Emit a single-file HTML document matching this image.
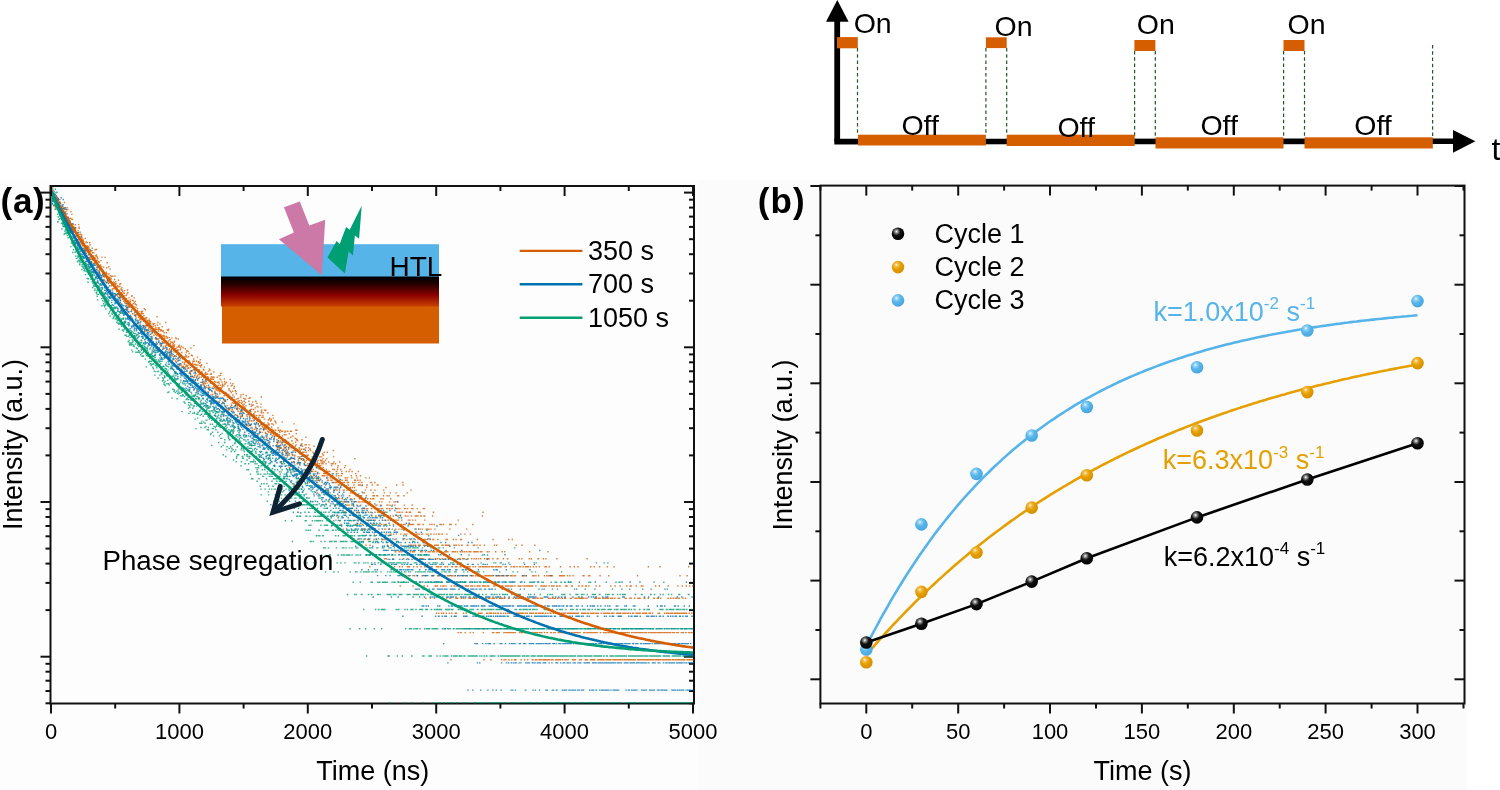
<!DOCTYPE html>
<html><head><meta charset="utf-8"><style>
html,body{margin:0;padding:0;background:#fff;width:1500px;height:790px;overflow:hidden}
svg{display:block;filter:blur(0.4px)}
</style></head><body>
<svg width="1500" height="790" viewBox="0 0 1500 790" font-family="'Liberation Sans', sans-serif">
<rect x="0" y="0" width="1500" height="790" fill="#ffffff"/>
<rect x="0" y="179" width="699" height="611" fill="#fdfdfd"/>
<rect x="699" y="180" width="768" height="610" fill="#fbfbfb"/>
<line x1="857.5" y1="48" x2="857.5" y2="135" stroke="#1d5a1d" stroke-width="1.2" stroke-dasharray="3.6,2.65" fill="none"/>
<line x1="985.9" y1="48" x2="985.9" y2="135" stroke="#1d5a1d" stroke-width="1.2" stroke-dasharray="3.6,2.65" fill="none"/>
<line x1="1006.7" y1="48" x2="1006.7" y2="135" stroke="#1d5a1d" stroke-width="1.2" stroke-dasharray="3.6,2.65" fill="none"/>
<line x1="1134.6" y1="51" x2="1134.6" y2="137" stroke="#1d5a1d" stroke-width="1.2" stroke-dasharray="3.6,2.65" fill="none"/>
<line x1="1155.3" y1="51" x2="1155.3" y2="137" stroke="#1d5a1d" stroke-width="1.2" stroke-dasharray="3.6,2.65" fill="none"/>
<line x1="1283.6" y1="51" x2="1283.6" y2="137" stroke="#1d5a1d" stroke-width="1.2" stroke-dasharray="3.6,2.65" fill="none"/>
<line x1="1304.5" y1="51" x2="1304.5" y2="137" stroke="#1d5a1d" stroke-width="1.2" stroke-dasharray="3.6,2.65" fill="none"/>
<line x1="1432.6" y1="45" x2="1432.6" y2="137" stroke="#1d5a1d" stroke-width="1.2" stroke-dasharray="3.6,2.65" fill="none"/>
<line x1="837.2" y1="20" x2="837.2" y2="141.5" stroke="#000" stroke-width="5.8"/>
<polygon points="837.3,0 848.6,21.8 826,21.8" fill="#000"/>
<line x1="834.3" y1="141.6" x2="1454" y2="141.3" stroke="#000" stroke-width="5.6"/>
<polygon points="1453,130.1 1475.4,141.2 1453,152.7" fill="#000"/>
<rect x="836.9" y="37.1" width="20.899999999999977" height="11.199999999999996" fill="#D55E00"/>
<rect x="985.9" y="37.3" width="20.800000000000068" height="10.800000000000004" fill="#D55E00"/>
<rect x="1134.4" y="40" width="21.0" height="11" fill="#D55E00"/>
<rect x="1283.5" y="40" width="21.0" height="11" fill="#D55E00"/>
<rect x="858" y="134.7" width="127.89999999999998" height="10.800000000000011" fill="#D55E00"/>
<rect x="1006.7" y="134.7" width="128.0" height="11.300000000000011" fill="#D55E00"/>
<rect x="1155.5" y="137.3" width="128.0" height="11.199999999999989" fill="#D55E00"/>
<rect x="1304.5" y="137.3" width="128.29999999999995" height="11.199999999999989" fill="#D55E00"/>
<text x="853.7" y="33.3" font-size="28.5" font-family="'Liberation Sans', sans-serif">On</text>
<text x="994.6" y="36.2" font-size="28.5" font-family="'Liberation Sans', sans-serif">On</text>
<text x="1136.8" y="34.3" font-size="28.5" font-family="'Liberation Sans', sans-serif">On</text>
<text x="1287.5" y="34.2" font-size="28.5" font-family="'Liberation Sans', sans-serif">On</text>
<text x="901.4" y="134.5" font-size="28.5" font-family="'Liberation Sans', sans-serif">Off</text>
<text x="1057.4" y="137.2" font-size="28.5" font-family="'Liberation Sans', sans-serif">Off</text>
<text x="1200.4" y="134.5" font-size="28.5" font-family="'Liberation Sans', sans-serif">Off</text>
<text x="1354.3" y="134.5" font-size="28.5" font-family="'Liberation Sans', sans-serif">Off</text>
<text x="1491.5" y="160" font-size="32" font-family="'Liberation Sans', sans-serif">t</text>
<rect x="50.5" y="186" width="643.5" height="517.5" fill="none" stroke="#111" stroke-width="2"/>
<line x1="45.5" y1="300.7" x2="50.5" y2="300.7" stroke="#111" stroke-width="2"/>
<line x1="689" y1="300.7" x2="694" y2="300.7" stroke="#111" stroke-width="2"/>
<line x1="45.5" y1="273.5" x2="50.5" y2="273.5" stroke="#111" stroke-width="2"/>
<line x1="689" y1="273.5" x2="694" y2="273.5" stroke="#111" stroke-width="2"/>
<line x1="45.5" y1="254.2" x2="50.5" y2="254.2" stroke="#111" stroke-width="2"/>
<line x1="689" y1="254.2" x2="694" y2="254.2" stroke="#111" stroke-width="2"/>
<line x1="45.5" y1="239.2" x2="50.5" y2="239.2" stroke="#111" stroke-width="2"/>
<line x1="689" y1="239.2" x2="694" y2="239.2" stroke="#111" stroke-width="2"/>
<line x1="45.5" y1="226.9" x2="50.5" y2="226.9" stroke="#111" stroke-width="2"/>
<line x1="689" y1="226.9" x2="694" y2="226.9" stroke="#111" stroke-width="2"/>
<line x1="45.5" y1="216.6" x2="50.5" y2="216.6" stroke="#111" stroke-width="2"/>
<line x1="689" y1="216.6" x2="694" y2="216.6" stroke="#111" stroke-width="2"/>
<line x1="45.5" y1="207.6" x2="50.5" y2="207.6" stroke="#111" stroke-width="2"/>
<line x1="689" y1="207.6" x2="694" y2="207.6" stroke="#111" stroke-width="2"/>
<line x1="45.5" y1="199.7" x2="50.5" y2="199.7" stroke="#111" stroke-width="2"/>
<line x1="689" y1="199.7" x2="694" y2="199.7" stroke="#111" stroke-width="2"/>
<line x1="40.5" y1="192.6" x2="50.5" y2="192.6" stroke="#111" stroke-width="2"/>
<line x1="684" y1="192.6" x2="694" y2="192.6" stroke="#111" stroke-width="2"/>
<line x1="45.5" y1="455.4" x2="50.5" y2="455.4" stroke="#111" stroke-width="2"/>
<line x1="689" y1="455.4" x2="694" y2="455.4" stroke="#111" stroke-width="2"/>
<line x1="45.5" y1="428.2" x2="50.5" y2="428.2" stroke="#111" stroke-width="2"/>
<line x1="689" y1="428.2" x2="694" y2="428.2" stroke="#111" stroke-width="2"/>
<line x1="45.5" y1="408.9" x2="50.5" y2="408.9" stroke="#111" stroke-width="2"/>
<line x1="689" y1="408.9" x2="694" y2="408.9" stroke="#111" stroke-width="2"/>
<line x1="45.5" y1="393.9" x2="50.5" y2="393.9" stroke="#111" stroke-width="2"/>
<line x1="689" y1="393.9" x2="694" y2="393.9" stroke="#111" stroke-width="2"/>
<line x1="45.5" y1="381.6" x2="50.5" y2="381.6" stroke="#111" stroke-width="2"/>
<line x1="689" y1="381.6" x2="694" y2="381.6" stroke="#111" stroke-width="2"/>
<line x1="45.5" y1="371.3" x2="50.5" y2="371.3" stroke="#111" stroke-width="2"/>
<line x1="689" y1="371.3" x2="694" y2="371.3" stroke="#111" stroke-width="2"/>
<line x1="45.5" y1="362.3" x2="50.5" y2="362.3" stroke="#111" stroke-width="2"/>
<line x1="689" y1="362.3" x2="694" y2="362.3" stroke="#111" stroke-width="2"/>
<line x1="45.5" y1="354.4" x2="50.5" y2="354.4" stroke="#111" stroke-width="2"/>
<line x1="689" y1="354.4" x2="694" y2="354.4" stroke="#111" stroke-width="2"/>
<line x1="40.5" y1="347.3" x2="50.5" y2="347.3" stroke="#111" stroke-width="2"/>
<line x1="684" y1="347.3" x2="694" y2="347.3" stroke="#111" stroke-width="2"/>
<line x1="45.5" y1="610.1" x2="50.5" y2="610.1" stroke="#111" stroke-width="2"/>
<line x1="689" y1="610.1" x2="694" y2="610.1" stroke="#111" stroke-width="2"/>
<line x1="45.5" y1="582.9" x2="50.5" y2="582.9" stroke="#111" stroke-width="2"/>
<line x1="689" y1="582.9" x2="694" y2="582.9" stroke="#111" stroke-width="2"/>
<line x1="45.5" y1="563.6" x2="50.5" y2="563.6" stroke="#111" stroke-width="2"/>
<line x1="689" y1="563.6" x2="694" y2="563.6" stroke="#111" stroke-width="2"/>
<line x1="45.5" y1="548.6" x2="50.5" y2="548.6" stroke="#111" stroke-width="2"/>
<line x1="689" y1="548.6" x2="694" y2="548.6" stroke="#111" stroke-width="2"/>
<line x1="45.5" y1="536.3" x2="50.5" y2="536.3" stroke="#111" stroke-width="2"/>
<line x1="689" y1="536.3" x2="694" y2="536.3" stroke="#111" stroke-width="2"/>
<line x1="45.5" y1="526.0" x2="50.5" y2="526.0" stroke="#111" stroke-width="2"/>
<line x1="689" y1="526.0" x2="694" y2="526.0" stroke="#111" stroke-width="2"/>
<line x1="45.5" y1="517.0" x2="50.5" y2="517.0" stroke="#111" stroke-width="2"/>
<line x1="689" y1="517.0" x2="694" y2="517.0" stroke="#111" stroke-width="2"/>
<line x1="45.5" y1="509.1" x2="50.5" y2="509.1" stroke="#111" stroke-width="2"/>
<line x1="689" y1="509.1" x2="694" y2="509.1" stroke="#111" stroke-width="2"/>
<line x1="40.5" y1="502.0" x2="50.5" y2="502.0" stroke="#111" stroke-width="2"/>
<line x1="684" y1="502.0" x2="694" y2="502.0" stroke="#111" stroke-width="2"/>
<line x1="45.5" y1="703.3" x2="50.5" y2="703.3" stroke="#111" stroke-width="2"/>
<line x1="689" y1="703.3" x2="694" y2="703.3" stroke="#111" stroke-width="2"/>
<line x1="45.5" y1="691.0" x2="50.5" y2="691.0" stroke="#111" stroke-width="2"/>
<line x1="689" y1="691.0" x2="694" y2="691.0" stroke="#111" stroke-width="2"/>
<line x1="45.5" y1="680.7" x2="50.5" y2="680.7" stroke="#111" stroke-width="2"/>
<line x1="689" y1="680.7" x2="694" y2="680.7" stroke="#111" stroke-width="2"/>
<line x1="45.5" y1="671.7" x2="50.5" y2="671.7" stroke="#111" stroke-width="2"/>
<line x1="689" y1="671.7" x2="694" y2="671.7" stroke="#111" stroke-width="2"/>
<line x1="45.5" y1="663.8" x2="50.5" y2="663.8" stroke="#111" stroke-width="2"/>
<line x1="689" y1="663.8" x2="694" y2="663.8" stroke="#111" stroke-width="2"/>
<line x1="40.5" y1="656.7" x2="50.5" y2="656.7" stroke="#111" stroke-width="2"/>
<line x1="684" y1="656.7" x2="694" y2="656.7" stroke="#111" stroke-width="2"/>
<path transform="scale(0.1)" d="M503 1909h14m-8 11h14m-13 16h14m-12 31h14m-12-55h14m-12 26h14m-12-35h14m-13 99h14m-12-125h14m-12 58h14m-12-34h14m-13 64h14m-12 13h14m-12-32h14m-12-4h14m-12 52h14m-13-47h14m-12 13h14m-12 48h14m-12 50h14m-13-110h14m-12 40h14m-12 91h14m-12-55h14m-12-19h14m-13 65h14m-12 14h14m-12-99h14m-12-19h14m-12 20h14m-13 71h14m-12-70h14m-12 17h14m-12 40h14m-13-50h14m-12-20h14m-12 55h14m-12 20h14m-12-44h14m-13 23h14m-12-40h14m-12 113h14m-12-42h14m-12 18h14m-13 38h14m-12-35h14m-12-61h14m-12 95h14m-13-118h14m-12 27h14m-12 10h14m-12 32h21m-19-27h14m-13 98h14m-8 4h14m-13-36h14m-12 10h14m-12-14h14m-12 25h14m-12-29h14m-13-1h14m-12 81h14m-12-97h14m-12 24h14m-12-21h14m-13 58h14m-12-57h14m-12 22h14m-12 25h14m-13-13h14m-12-41h14m-12-51h14m-12 183h14m-12-114h14m-13 49h14m-12 2h21m-19 73h14m-12-87h14m-12 96h14m-11-111h14m-12 158h14m-12-82h14m-13 51h14m-12-71h14m-12-74h14m-12-22h14m-12 184h14m-13-28h14m-12-59h14m-12-79h14m-12 76h14m-13 47h14m-12-41h14m-12 20h14m-12 29h14m-12-2h17m-16-18h14m-10 32h14m-12-7h14m-12 50h14m-13-27h14m-12-42h14m-12 21h14m-12 63h14m-13-113h14m-12 119h14m-12-185h14m-12 152h14m-12-25h14m-13 74h14m-12-126h14m-12-47h14m-12 168h14m-12-14h14m-13-105h14m-12 123h14m-12-36h14m-12 24h14m-13-36h14m-12-24h14m-12 34h14m-12-12h14m-12 54h14m-13-7h14m-12 97h14m-12-28h14m-12-89h14m-13 6h14m-12-11h14m-12-9h14m-12-31h14m-12 41h14m-13-11h14m-12 52h14m-12 1h14m-12 33h14m-12-31h14m-13 66h14m-12-48h14m-12-2h14m-12-13h14m-13-6h14m-12 107h14m-12-38h14m-12-49h14m-12-26h14m-13-20h14m-12 88h14m-12 20h14m-12-166h14m-12 99h14m-13-74h14m-12 12h14m-12 143h14m-12-33h14m-13-17h14m-12-7h14m-12-47h14m-12 75h14m-12-54h14m-13 109h14m-12-71h14m-12 65h14m-12-60h14m-12 49h14m-13-83h14m-12-3h14m-12 25h14m-12 17h14m-13 14h14m-12 9h21m-19 46h14m-12-10h14m-12-58h14m-11 15h14m-12 100h14m-12-89h14m-13 65h14m-12 5h14m-12-2h14m-12-45h14m-12-4h14m-13 55h14m-12 19h14m-12 17h14m-12-144h14m-12 76h14m-13 65h14m-12-20h14m-12 10h14m-12-89h14m-13 167h14m-12-173h14m-12 45h14m-12 91h14m-12-99h14m-13-31h14m-12 73h14m-12-12h14m-12 21h14m-12-36h14m-13 52h14m-12-30h14m-12-29h14m-12 118h14m-13-110h14m-12 17h14m-12 103h14m-12-98h14m-12-67h14m-13 85h14m-12 66h14m-12-131h14m-12 130h14m-13 18h14m-12-57h14m-12 111h14m-12-138h14m-12 83h14m-13-6h14m-12 37h14m-12-1h14m-12-2h14m-12-116h14m-13-24h14m-12 77h14m-12-33h14m-12 72h14m-13 41h14m-12-52h14m-12 5h14m-12-22h14m-12-11h14m-13-33h14m-12 72h14m-12 32h14m-12-38h14m-12 35h14m-13-47h14m-12-3h14m-12-80h14m-12 125h14m-13-37h14m-12-27h14m-12 69h14m-12-22h14m-12 26h14m-13-82h14m-12-55h14m-12 107h14m-12 91h14m-13-128h14m-12 8h14m-12 36h14m-12 66h14m-12-89h14m-13 124h14m-12-52h14m-12 10h14m-12 69h14m-12-120h14m-13 57h14m-12 50h14m-12-101h14m-12 68h14m-13 84h14m-12-83h14m-12-23h14m-12-8h14m-12-3h14m-13 1h14m-12-9h14m-12 41h14m-12-85h14m-12 84h14m-13 18h14m-12-38h14m-12 104h14m-12-17h14m-13-186h14m-12 139h14m-12-15h14m-12 38h14m-12 13h14m-13-39h14m-12 23h14m-12-19h14m-12 92h14m-13-132h14m-12 85h14m-12 41h14m-12-29h14m-12-34h14m-13 37h14m-12-14h14m-12-1h14m-12-182h14m-12 239h14m-13-82h14m-12 24h14m-12-16h14m-12 122h14m-13-33h14m-12-106h14m-12 14h14m-12-58h14m-12 104h14m-13 4h19m-17-159h14m-12 174h14m-10 21h14m-13-56h14m-12-25h14m-12 57h14m-12 11h14m-13-10h14m-12-132h14m-12 72h14m-12 204h14m-12-122h14m-13 5h14m-12-51h14m-12 16h14m-12-100h14m-13 67h14m-12 61h14m-12 4h14m-12-27h14m-12 26h14m-13-39h14m-12 74h14m-12-25h14m-12-69h14m-12 83h14m-13 2h14m-12 56h14m-12-15h14m-12-42h14m-13 99h14m-12-182h14m-12 80h14m-12 43h22m-20-67h14m-13 65h14m-12-44h14m-12 137h14m-10-121h14m-13-62h14m-12 33h14m-12-68h14m-12 191h14m-13 33h14m-12-142h14m-12 5h14m-12-30h14m-12 70h14m-13-50h14m-12 112h14m-12-80h14m-12 44h14m-13-15h14m-12-23h14m-12 76h14m-12-91h14m-12 82h14m-13-85h14m-12 110h14m-12-21h14m-12-37h14m-12-107h14m-13 133h14m-12-29h14m-12-38h14m-12 80h14m-13 30h14m-12-137h14m-12 60h14m-12-39h14m-12 141h14m-13-39h14m-12-27h14m-12-99h14m-12 201h14m-12-149h14m-13 45h14m-12-9h14m-12 49h14m-12-73h14m-13-25h14m-12 84h14m-12-18h14m-12-42h14m-12 91h14m-13-76h14m-12 39h14m-12 27h14m-12-53h14m-13 41h14m-12 42h14m-12-34h14m-12 33h14m-12-79h14m-13 64h14m-12-90h14m-12 53h14m-12 63h14m-12 10h14m-13-15h14m-12-32h14m-12 19h14m-12 132h14m-13-149h14m-12 108h14m-12-141h14m-12 34h14m-12 64h14m-13 41h14m-12-154h14m-12 138h14m-12-38h14m-12-139h14m-13 198h14m-12-171h14m-12 139h14m-12-17h14m-13 10h14m-12 67h14m-12-122h14m-12-25h14m-12 140h14m-13-55h14m-12-45h14m-12 54h14m-12-43h14m-13 41h14m-12-29h14m-12-26h14m-12-17h15m-12 67h14m-12 100h14m-12-109h14m-12 58h14m-12-17h14m-13-136h14m-12-5h14m-12 88h14m-12 14h14m-13-55h14m-12 134h14m-12-54h14m-12-21h14m-12-56h14m-13 28h14m-12 43h14m-12 2h14m-12 156h14m-12-165h14m-13-92h14m-12 175h14m-12-125h14m-12 62h14m-13 55h14m-12-132h14m-12 28h14m-12 120h14m-12-38h14m-13-51h14m-12 107h14m-12-69h14m-12-61h14m-13 96h14m-12 2h14m-12-35h14m-12 123h14m-12-132h14m-13-18h14m-12 48h14m-12 105h14m-12-93h26m-23 12h21m-19 16h14m-10-57h14m-9 82h14m-12-61h14m-12 2h14m-13 44h14m-12 46h14m-12-70h14m-12 33h14m-12-17h14m-13-22h14m-12-37h14m-12 82h14m-12-27h14m-13-34h14m-12-15h14m-12 9h14m-12 38h14m-12-57h14m-13 78h14m-12 8h14m-12-31h14m-12 110h14m-13-140h14m-12 126h14m-12-52h14m-12 47h14m-12-103h14m-13 39h14m-12-108h14m-12 95h14m-12 133h14m-12-12h14m-13-93h14m-12 45h14m-12-157h14m-12 132h14m-13 48h14m-12-96h14m-12 9h14m-12 68h14m-12-11h14m-13-72h14m-12 47h14m-12 29h14m-12-42h14m-12 90h14m-13-66h14m-12-28h14m-12 97h14m-12 38h14m-13-79h14m-12-54h14m-12 22h14m-12 58h14m-12-10h14m-13-87h14m-12 28h14m-12-13h14m-12 26h22m-21 83h14m-12 95h14m-12-153h14m-12 19h14m-11-60h14m-12 34h14m-12 140h14m-12-80h14m-12-27h14m-13-10h14m-12 63h14m-12 29h14m-12-57h14m-13-13h14m-12 25h14m-12-30h14m-12-54h14m-12 28h14m-13-25h14m-12 6h14m-12 48h14m-12 22h14m-12 37h14m-13-44h14m-12 20h14m-12-92h14m-12 59h14m-13 15h14m-12-20h14m-12-33h14m-12 125h14m-12-36h14m-13 145h14m-12-215h14m-12 114h14m-12-97h14m-13 103h14m-12 88h14m-12-127h14m-12-189h14m-12 222h14m-13-95h21m-19-43h14m-12 144h14m-12-171h14m-11 162h14m-12-111h21m-19 37h14m-12 109h14m-13-132h14m-10 75h14m-12-72h14m-12 147h14m-13-67h14m-12-134h14m-12 105h21m-17-46h14m-13 10h14m-10 135h14m-12 13h14m-13-153h14m-12 93h14m-12-39h14m-12 3h14m-12-94h14m-13 150h14m-12-103h14m-12 69h14m-12 40h14m-13-62h14m-12-52h14m-12 157h14m-12-40h14m-12 63h14m-13-134h14m-12-26h14m-12 37h14m-12 63h14m-12 56h14m-13-102h14m-12 49h14m-12 94h14m-12-103h14m-13 43h14m-12-240h14m-12 228h22m-20-88h14m-12-37h14m-13 225h14m-12-59h14m-10-112h14m-12-84h14m-13 142h14m-12-69h14m-12 75h14m-12 137h14m-13-12h14m-12-266h14m-12 105h14m-12 111h14m-12-228h14m-13 208h14m-12-42h14m-12-83h14m-12 149h14m-13-37h14m-12-92h14m-12 150h14m-12-147h14m-12 112h14m-13-74h14m-12-3h14m-12-15h14m-12 130h14m-12-24h14m-13 10h14m-12-41h14m-12 17h14m-12-132h14m-13 178h14m-12-135h14m-12 40h14m-12 144h14m-12-160h14m-13 13h14m-12-25h14m-12 130h14m-12-102h21m-19 39h14m-13-26h14m-12-53h14m-10-9h14m-13 36h14m-12 111h14m-12-69h14m-12-3h22m-20 30h19m-18 92h14m-12-231h14m-9 6h14m-12 179h14m-12 30h14m-12-48h14m-12-32h14m-13-42h14m-12 36h14m-12 17h14m-12 85h14m-12-112h14m-13 81h14m-12-189h14m-12 111h14m-12 162h17m-16-201h14m-10 10h22m-20-19h14m-12 115h14m-13 78h14m-12-107h14m-10 18h14m-12 29h14m-13-88h14m-12-17h14m-12 169h14m-12-97h14m-13 127h14m-12-123h14m-12-95h14m-12 63h14m-12 43h19m-18 95h22m-20-42h14m-10-35h14m-13 4h14m-10-112h14m-12 105h14m-12 84h14m-13 9h14m-12 13h14m-12-68h14m-12 21h14m-12-8h14m-13-44h14m-12-11h14m-12-11h15m-12-80h14m-12 61h14m-12 68h14m-12 50h14m-12-17h14m-13-125h14m-12 133h14m-12-98h14m-12-52h14m-12 102h14m-13-39h14m-12 118h14m-12-22h14m-12-13h14m-13-143h14m-12 95h14m-12-92h14m-12 170h14m-12-4h14m-13-112h14m-12 42h14m-12-75h14m-12 199h14m-12-121h14m-13 107h14m-12 84h14m-12-183h14m-12 109h14m-13-54h14m-12 35h14m-12 33h14m-12-263h14m-12 287h14m-13-126h14m-12-89h14m-12 158h14m-12-48h15m-12 44h14m-12-150h14m-12 81h14m-12 130h14m-13-139h14m-12-16h14m-12 191h14m-12-106h14m-12 75h21m-20-183h14m-12-134h14m-12 190h14m-11-33h14m-12 141h17m-15-112h14m-10 38h14m-13 40h14m-12 79h14m-12-60h14m-12-93h19m-17 4h14m-13 186h14m-10-223h14m-12 63h14m-13 177h14m-12 53h14m-12-143h14m-12-192h14m-12 233h14m-13-102h14m-12-52h14m-12 99h22m-20-124h14m-13 100h14m-12-108h14m-12 81h14m-10 75h14m-13-71h14m-12-68h14m-12 110h21m-19-86h21m-19-33h14m-13-27h14m-8 73h14m-13 199h14m-12-97h14m-12-119h14m-12-8h14m-12 70h14m-13 14h19m-17 33h14m-12-19h14m-10 81h14m-13-10h21m-19 33h14m-12-12h14m-12-143h14m-11 85h14m-12-76h14m-12 129h14m-12 22h14m-13-182h14m-12 83h14m-12 71h14m-12-86h22m-21 131h14m-12-34h14m-12-42h14m-12-69h14m-11 24h14m-12 50h15m-11 60h14m-12 17h14m-13-242h14m-12 197h14m-12-87h14m-12 24h17m-16-29h14m-10 179h14m-12-140h14m-12 104h14m-13-171h14m-12 72h14m-12 187h14m-12-100h14m-12-66h14m-13-115h14m-12 217h14m-12-204h14m-12 275h14m-13-101h14m-12-45h14m-12-87h22m-20 39h14m-12 11h14m-13 156h14m-12-216h14m-10 34h15m-12 52h14m-12-26h14m-12-5h19m-17 208h14m-13-53h14m-10-171h14m-12 21h15m-12 71h14m-12-145h14m-12 257h14m-12-204h14m-13 63h14m-12-21h14m-12 110h14m-12-49h14m-12 36h14m-13 25h22m-20-49h14m-12-68h14m-12 45h14m-12 154h14m-11-49h14m-12-82h14m-12-18h14m-13 142h14m-12-112h14m-12-127h14m-12 52h14m-12 138h19m-18-75h14m-12 18h14m-10-53h14m-13-28h14m-12 194h14m-12-199h14m-12 86h14m-12-148h14m-13 73h14m-12 87h14m-12-42h19m-17 61h14m-12-148h14m-11 64h14m-12-119h21m-19 20h14m-13 45h14m-12 113h14m-10-30h15m-12 36h14m-12-98h14m-12 50h14m-12-11h14m-12-17h14m-13 135h14m-12-124h14m-12 65h14m-12 13h14m-13 102h14m-12 130h14m-12-137h14m-12-167h14m-12 145h14m-13-47h14m-12-168h14m-12 26h14m-12 27h14m-13 170h21m-19-15h14m-12-166h14m-12 100h21m-18-6h14m-12 12h17m-11-112h14m-13 119h21m-19 143h15m-11-31h14m-11-106h14m-12-91h14m-12 111h14m-12 117h14m-13-8h14m-12 24h14m-12-159h14m-12-44h14m-12-12h14m-13 89h15m-11 118h14m-12-125h14m-13-7h14m-12-169h14m-12 118h14m-12-81h14m-12 332h14m-13-99h14m-12-67h14m-12-138h14m-12 66h14m-13 116h14m-12 15h14m-12 23h14m-12-226h14m-12 242h14m-13-69h14m-12-114h14m-12 38h14m-12-114h14m-12 276h14m-13-115h19m-17 7h14m-12 29h14m-11-151h14m-12 88h14m-12-105h14m-12 154h14m-12 45h14m-13-67h14m-12 29h14m-12-120h14m-12 150h14m-12 90h14m-13-98h14m-12-130h14m-12 115h14m-12-96h14m-13 217h22m-20-67h14m-12-97h14m-12 81h14m-12 24h14m-11-39h14m-12 23h14m-12-67h19m-18 100h14m-12-128h14m-10 226h14m-12-191h14m-13 181h14m-12-196h14m-12 83h14m-12-31h14m-12-30h14m-13 111h14m-12-17h14m-12 43h19m-17-193h14m-13 202h14m-10-222h14m-12 54h14m-12 91h14m-13 17h14m-12-79h15m-11-14h14m-12 144h14m-13-43h14m-12 26h14m-12-98h19m-17 31h14m-13-135h14m-10 143h14m-12-103h14m-12 80h14m-13-52h17m-15 29h14m-10 62h14m-13-32h14m-12-81h21m-19 89h14m-12 8h14m-12-61h14m-11 86h30m-28-56h14m-12 193h14m-12-292h14m-13 189h14m-10-43h14m-12 60h14m-13 18h14m-10 68h14m-12-129h19m-17 139h14m-13-30h14m-10-117h14m-12 137h14m-12-237h14m-13-28h14m-12 226h14m-12-64h14m-12 54h14m-13-37h14m-12-60h14m-12-126h14m-12 135h14m-12 147h14m-13-10h14m-12-129h14m-12-25h21m-19-31h14m-13 146h14m-12-169h14m-10 105h14m-12-90h14m-13 224h14m-12 22h14m-12-121h14m-12-162h14m-12 191h14m-13-162h14m-12 106h14m-12 9h14m-12-68h14m-13 42h14m-12 9h14m-12 45h14m-12 100h14m-12 33h19m-18-170h14m-12-34h17m-11-41h14m-13 191h14m-12-258h14m-12 227h14m-12 52h14m-13-119h14m-12 57h14m-12-75h14m-12-121h14m-12 31h14m-13 296h14m-12-150h14m-12 138h17m-15-236h14m-11-41h14m-12 168h14m-12 183h14m-12-250h15m-12 9h14m-12-27h14m-12 105h14m-12 54h14m-13-22h14m-12 33h14m-12-124h15m-12-46h14m-12 95h14m-12-178h14m-12-30h14m-12 87h14m-13-158h14m-12 142h14m-12-9h14m-12 69h14m-12 87h14m-13 65h14m-12 73h14m-12-127h14m-12-116h14m-13 18h17m-15-44h14m-10 152h14m-12 22h14m-13-11h14m-12 81h14m-12-143h14m-12-38h14m-13-88h14m-12 167h14m-12 10h14m-12 11h14m-12 131h14m-13-98h14m-12 12h14m-12-233h14m-12 177h14m-12 11h17m-16-42h21m-17 123h14m-12-36h14m-11 48h14m-12-125h14m-12 54h14m-12-185h14m-13 101h14m-12 41h14m-12-70h14m-12 49h21m-19 64h14m-13 11h14m-12-85h14m-10-48h14m-13 193h14m-12-203h14m-12 241h15m-11 41h14m-13-139h14m-12-114h14m-12 92h14m-12 34h14m-13-145h14m-12 9h14m-12 70h14m-12-31h22m-20 85h14m-13 182h14m-12-215h14m-12 69h14m-10-24h14m-13-182h14m-12 368h14m-12-341h14m-12 68h14m-13 53h17m-15 46h14m-10-12h22m-20 48h14m-13-24h15m-11-150h14m-10 312h14m-13-198h14m-12-105h14m-12 83h14m-12-73h14m-13 131h14m-12-24h14m-12 127h14m-12-14h14m-12-27h14m-13-25h14m-12 80h14m-12-141h14m-12 24h14m-13 76h14m-12 27h14m-12-183h14m-12 22h15m-12 107h14m-12-25h14m-12 38h14m-12 70h14m-12-144h14m-13-35h14m-12 164h14m-12-153h14m-12-22h17m-16 318h14m-10-211h14m-12 40h14m-12 28h14m-13-55h14m-12-38h14m-12 185h14m-12-256h22m-20 193h14m-13-70h14m-12-217h14m-12 141h14m-11 162h14m-12 31h14m-12-61h19m-17-95h22m-20 223h14m-11-157h14m-12-41h14m-11-74h14m-12 129h14m-12-28h14m-12-125h14m-12-11h19m-18 193h14m-12-109h14m-10 80h14m-12-129h14m-13 174h22m-20-86h14m-12 27h14m-12-54h14m-13 128h14m-10-31h14m-12 63h14m-12 51h14m-13-307h14m-12 224h14m-12-153h14m-12 272h14m-12-164h14m-13-70h14m-12 55h14m-12 76h14m-12 122h19m-18-339h14m-12 201h14m-10 101h14m-12-175h21m-20 123h14m-12-273h14m-12 59h17m-12 105h14m-12 109h14m-12-273h14m-12 96h19m-18 211h14m-12-157h17m-11 232h14m-13-142h14m-12-193h14m-12 76h14m-12 150h14m-13-80h17m-15 114h14m-10-381h14m-12 611h14m-13-135h14m-12-162h17m-15 16h14m-10-185h21m-20 122h14m-12-43h14m-12-41h14m-11-120h14m-12 147h14m-12-113h14m-12 61h22m-19 109h14m-12-204h14m-12 336h19m-15-229h14m-11 160h14m-12 126h14m-12-92h15m-12 17h15m-11-34h14m-12-94h14m-13-15h14m-12 92h22m-20 167h14m-12-199h14m-13-15h19m-17-16h14m-8-57h22m-21 137h14m-12 171h14m-12-265h14m-12 223h21m-18-279h14m-12-39h14m-10 189h21m-20-123h14m-12 59h14m-12 81h14m-10-111h14m-13 265h15m-11-204h14m-12-31h14m-12 116h14m-13-35h14m-12-111h14m-12 128h22m-20-171h14m-13 104h14m-12 142h14m-12-39h14m-10-179h14m-13-105h14m-12 150h14m-12-73h14m-12 154h15m-12-50h14m-12 103h19m-17-87h15m-10 69h14m-12-52h22m-20-33h14m-12 142h14m-13-189h14m-12-29h14m-10 259h14m-13-287h14m-12 376h14m-12-187h14m-12 57h14m-12 84h14m-13-287h17m-15 164h14m-10-150h14m-12 97h14m-13 154h14m-12 22h15m-11-104h14m-13 40h26m-22-129h14m-12-17h14m-11 233h14m-12-23h14m-10-257h14m-13 173h14m-12-57h14m-12-35h21m-19-66h14m-12 220h14m-13-294h14m-10 316h14m-12-159h22m-20 36h14m-13-103h14m-12 162h21m-19-178h21m-18-31h14m-8 251h14m-12-101h14m-13 245h14m-12-51h14m-12 79h14m-12-127h21m-19 23h14m-13-205h14m-12 18h14m-10-35h14m-13 176h14m-12 71h14m-12-194h37m-33 80h14m-13 66h14m-10-164h14m-12-69h19m-18 210h14m-8-84h14m-12-92h15m-10 17h14m-12 255h14m-12-306h14m-13 360h14m-12-291h14m-12-35h14m-12 154h14m-13 68h14m-12-288h14m-12 83h14m-12 18h14m-12-52h14m-13 89h14m-12-122h14m-12 204h14m-12-21h14m-12-21h14m-13-95h17m-15-98h14m-10 379h19m-18-144h14m-12-21h19m-15-133h14m-11 247h14m-12-135h17m-15-77h14m-11 57h14m-12 206h14m-12-315h14m-12 171h14m-12 22h21m-20-257h14m-12 280h21m-19-87h14m-7 186h14m-12-281h14m-12 116h14m-13-21h24m-22 304h17m-6-90h14m-12-150h24m-22 96h14m-13 82h14m-12-155h24m-20-164h31m-28 18h14m-7 169h14m-12-68h14m-12-62h14m-12 84h14m-11-43h14m-12-230h14m-12 63h14m-12 332h17m-16-281h14m-10 75h14m-12 356h22m-19-226h22m-20 162h14m-12-30h14m-11-319h14m-10 563h14m-12-300h14m-12-186h17m-16 42h14m-10 403h14m-12-335h14m-12 76h14m-13 86h14m-12-292h14m-12-20h14m-12 200h14m-13-139h14m-12-80h14m-12 194h22m-20-71h14m-12-22h14m-13 200h14m-12 30h14m-10-86h14m-13-99h14m-12-182h14m-12 399h14m-12-194h26m-24 226h14m-13-176h14m-12-180h14m-10 550h14m-12-488h14m-11-21h22m-20-21h14m-12 87h14m-13 185h14m-12 32h17m-11 103h21m-20-297h14m-12 76h24m-22 390h14m-9-272h22m-20-169h14m-10-25h14m-13-150h14m-10 447h14m-12-343h22m-20-123h14m-13 146h17m-15 185h14m-9-272h14m-12 336h14m-12-176h14m-12 144h14m-12-118h14m-13-99h14m-12 23h26m-24-46h14m-10 272h14m-13-150h14m-12-51h14m-12 169h17m-12 32h17m-15-336h14m-10 242h15m-12-82h21m-19-180h14m-12 206h14m-12 28h40m-37 157h14m-12-99h14m-9-230h14m-12 294h14m-12-272h14m-11-64h14m-12 371h14m-12-211h14m-11-50h14m-10 194h22m-20 103h14m-12-71h14m-13 109h14m-12-310h14m-10 137h14m-12-185h14m-13 73h14m-12-289h14m-12 239h14m-12 335h14m-13 85h14m-12-443h14m-12-66h15m-11 165h14m-13 56h14m-12-200h14m-12 403h14m-12-109h14m-12-272h14m-13 422h22m-20 44h14m-12-123h14m-12 273h14m-13-593h14m-10 217h14m-12-304h14m-12 135h14m-13 272h14m-12-297h14m-12 132h14m-12 62h21m-20-32h14m-12 258h14m-12-395h19m-15-48h14m-11-45h14m-12 200h14m-12 94h14m-12-64h15m-12-162h19m-17 261h14m-12-67h14m-11 434h14m-12-603h14m-12 395h14m-12-316h14m-13 193h14m-12 79h14m-12-182h33m-29 272h14m-11 104h14m-12-466h19m-17 157h19m-12-99h14m-11-86h14m-12 390h14m-12-169h14m-12-343h14m-13 674h14m-12-252h14m-12-244h14m-12-82h14m-12 211h14m-13-236h17m-15 169h14m-10 376h14m-12-408h14m-13 99h14m-12 159h14m-12-194h14m-12 71h17m-12 273h14m-12-194h14m-12 90h22m-21-512h14m-12 240h21m-19 648h14m-12-214h14m-9-466h14m-12-86h17m-15-76h21m-18 376h14m-12-115h17m-12 74h14m-12 85h21m-19-395h14m-12 137h15m-10-30h17m-15-28h14m-11 272h14m-12-214h14m-12 304h14m-12 104h14m-12-54h14m-13-384h14m-12 129h22m-20-261h14m-12 76h14m-13 221h14m-12 79h14m-10-41h17m-15-109h14m-11 194h14m-12 150h15m-11-438h21m-20 94h14m-10-201h22m-19 236h14m-12 36h26m-19 123h14m-12-85h22m-20 131h14m-11-205h21m-19-67h14m-7 569h14m-12-247h17m-15-290h21m-17-64h15m-10 135h14m-12 123h14m-13-159h22m-20-67h14m-12 376h14m-12-194h14m-9-79h14m-12-135h14m-12 408h14m-12-235h22m-21-203h14m-12-56h14m-12 221h14m-12 123h14m-11-316h14m-12 362h14m-12 297h14m-12-387h14m-13 194h14m-12-273h15m-11 169h14m-13-46h21m-19-370h14m-12 713h14m-12-247h14m-11-255h19m-17-35h14m-12-94h14m-10 496h14m-13-293h22m-20 41h22m-20-150h14m-12 344h14m-7-104h19m-17-334h14m-13 129h19m-15-67h14m-10 32h14m-13 290h24m-22-412h14m-12 231h14m-12-173h14m-13 214h22m-16 252h14m-9-367h19m-15 205h14m-11-240h14m-12 150h21m-19 387h14m-12-428h14m-13 85h14m-10 96h15m-11-322h14m-13 434h14m-12 214h14m-12-466h14m-12-150h14m-13 344h15m-11 122h19m-17-498h14m-12 272h14m-11-362h14m-12 272h14m-12 140h14m-12-491h14m-13 236h14m-12 367h14m-12-331h14m-12 79h14m-13 44h14m-12-85h21m-19-203h22m-20 129h14m-12-67h14m-11 182h14m-10 90h14m-12-169h21m-20 395h22m-18 150h14m-11-581h14m-10 774h14m-12-615h24m-22-85h14m-13 181h14m-12 112h14m-10-162h14m-11-90h14m-12 316h14m-12-395h14m-12 545h14m-13-376h22m-20 466h14m-12-932h14m-12 25h14m-12 545h14m-11-150h19m-17 343h14m-12-631h14m-11 384h14m-12-290h14m-12 35h24m-22 205h14m-11-46h14m-12-85h19m-17 181h26m-21-50h14m-12-169h22m-15 273h14m-10-466h14m-13 738h14m-12-581h14m-12 502h14m-12-428h14m-13 597h22m-20-556h14m-12 44h28m-26 422h22m-20-214h14m-9-331h14m-10 79h17m-12 316h14m-12-64h14m-13-331h14m-12 273h14m-12-494h14m-12 344h14m-12-85h14m-13-74h14m-12 367h15m-11-402h17m-15 466h14m-11-272h22m-20-44h14m-12-115h14m-13 774h14m-12-343h26m-22 150h14m-12-214h14m-13 135h14m-10-247h14m-11 416h15m-11-362h14m-12-235h14m-12 41h14m-13 252h14m-12 135h17m-11-297h14m-13-131h28m-26 181h14m-10 326h14m-13-581h14m-10 671h14m-12-512h19m-16 96h14m-10 112h19m-17-331h14m-9 219h14m-12 519h19m-17-615h14m-13 343h14m-10-466h14m-12 331h14m-12-162h14m-13 226h14m-12-357h19m-17 507h14m-12-79h21m-16-247h24m-20 176h14m-13 240h14m-12-466h14m-8 297h14m-13-343h17m-15-159h14m-10 309h14m-13 58h14m-12-293h22m-20 700h14m-12-774h14m-12 581h14m-13-466h14m-10 194h14m-12 58h21m-19 304h14m-13-240h14m-12 466h14m-10-692h30m-29 376h14m-12-326h14m-10 54h17m-12 58h14m-12 407h14m-11-193h14m-12-326h14m-12 176h31m-29-64h24m-19-162h14m-10 297h17m-12-343h14m-10 150h14m-13 588h14m-12-642h19m-15-50h14m-11 376h22m-20-214h15m-11-208h14m-12 512h26m-23-240h35m-33-357h14m-11 235h21m-15-273h14m-9 219h14m-12-96h14m-12 738h14m-11-530h49m-47-162h14m-12 569h22m-19-272h15m-7-247h14m-11 792h14m-12-466h14m-11-150h14m-12 71h14m-12 272h14m-12-103h14m-11-362h14m-12 272h19m-15-326h14m-11 792h14m-12-376h14m-12-169h14m-12-71h21m-18-176h14m-12-96h17m-12 422h21m-19 316h14m-12-123h14m-12-103h19m-16-512h14m-10 888h14m-12-792h19m-18 112h24m-22 135h14m-8 272h26m-21-103h26m-24-512h14m-13 888h14m-3-616h19m-17 150h21m-19-79h14m-11-135h17m-11 407h14m-13-465h14m-12 738h14m-12-616h14m-12 466h14m-12-642h14m-13 112h38m-36-58h14m-12 362h14m-12-90h14m-11-150h14m-10 71h21m-19 169h21m-12 376h14m-11-888h14m-12 46h14m-12 297h17m-16 395h19m-11 615h14m-13-1353h14m-12 615h14m-12-272h14m-12 169h26m-24 376h14m-13-466h19m-17-150h44m-33-122h14m-7 58h21m-19 407h21m-12-103h14m-11 376h14m-12-466h14m-12-422h14m-12 738h14m-13-588h14m-12 58h14m-12 680h14m-12-273h14m-13-193h14m-12 316h22m-20-466h14m-10 240h14m-13 103h14m-10 466h14m-12-1125h14m-12 387h28m-25 272h19m-17-407h14m-9 304h15m-9-90h21m-20-150h14m-12 809h21m-19-931h22m-19-54h14m-10 642h14m-10-123h21m-20-407h17m-15 64h22m-16 71h14m-13 169h17m-11 226h14m-13-316h14m-12 466h14m-12-545h21m-12-71h14m-12-176h14m-12 642h14m-13 343h14m-12-466h24m-20-193h14m-13 90h14m-12 376h14m-8-842h14m-13 226h14m-12 150h44m-42-214h21m-19 304h14m-13 103h22m-16-272h14m-7 395h21m-19-466h21m-9 809h14m-12-985h14m-12 642h14m-12-123h33m-32-343h14m-12 616h14m-10-376h21m-19-169h14m-6 395h14m-10-738h14m-12 422h14m-12 659h14m-13-873h14m-12 304h14m-12-240h15m-12 71h14m-12 395h14m-12-530h15m-11 407h14m-13 273h14m-12-616h14m-12 150h15m-11 90h14m-13 226h22m-20-395h17m-12-71h14m-10-64h14m-12 407h14m-12-465h14m-13 362h17m-15-240h17m-11 616h14m-13-273h17m-15-272h14m-10 79h14m-13 90h14m-12 226h14m-12 150h15m-11-273h14m-13-407h15m-11 64h14m-12 150h14m-13-79h14m-12 545h24m-22-376h17m-15 226h30m-25-466h14m-8-357h14m-13 507h26m-24 193h30m-26-738h14m-11 1204h14m-8 272h14m-9-1145h14m-12 135h14m-11 169h24m-22-90h26m-24 316h22m-19-123h14m-5 273h22m-20-545h15m-11 169h14m-13-240h14m-10 343h14m-12-193h14m-12-79h14m-13 169h17m-15 226h14m-10-123h14m-12-343h14m-13 71h14m-12 545h14m-12-466h14m-12 90h30m-29 226h14m-8 150h28m-23 465h14m-8-931h19m-12 316h38m-37-226h14m-12 569h14m-10-738h14m-12-193h14m-13 272h14m-10 466h14m-12 193h14m-13-466h24m-18-407h14m-7 214h31m-29 466h15m-12-616h14m-12 240h26m-21 569h14m-12-873h14m-12 530h14m-9-395h19m-17 545h22m-20 193h14m-9-569h30m-26-90h14m-11 659h17m-9-343h22m-17-316h22m-17 466h19m-12-376h14m-12 841h14m-12-615h22m-20-123h24m-22-343h14m-4 240h14m-12-169h14m-12 545h14m-11 193h14m-12 272h14m-12-615h19m-15-466h14m-11 240h14m-12-90h14m-12 659h14m-13-466h19m-17 273h14m-12 465h14m-10-931h14m-13 659h17m-11-569h17m-15 103h14m-11-272h17m-15 545h14m-11 193h14m-12-466h17m-15 123h22m-18-588h14m-13 1203h14m-12-272h14m-10-193h19m-12-273h14m-12-103h31m-30 569h22m-16-659h14m-9 193h14m-12 738h14m-12-465h31m-28-738h14m-12 931h28m-26-466h14m-9 123h14m-12-316h15m-8 90h15m-11 841h28m-27-931h14m-12 193h14m-10 466h14m-12-569h15m-12 226h14m-10 150h42m-41-680h14m-8 530h40m-38-316h14m-2 193h22m-11-272h14m-11 738h14m-12-659h22m-20 466h17m-15-273h21m-18 123h14m-8 615h14m-13-272h26m-24-193h14m-12-150h14m-12-395h14m-12-135h14m-11 304h14m-10 226h14m-13 150h24m-22-273h14m-12-193h14m-12 90h14m-7 226h14m-12 343h21m-19-569h14m-13 841h14m-12-738h17m-12 123h21m-19-316h22m-20 466h14m-9-376h14m-8 103h72m-69 466h14m-12-193h14m-12-466h22m-20 931h14m-11-615h22m-16 343h14m-7-738h14m-11-71h14m-12 616h40m-35-466h14m-5-79h15m-4 1010h22m-17-841h28m-26 226h14m-10-316h14m-11 466h14m-12 193h14m-12-343h24m-17-530h14m-12 873h14m-9 272h14m-12-465h22m-20-273h14m-13-103h14m-12-90h14m-12 659h14m-10 272h15m-12-615h24m-20 343h14m-9-738h19m-15 545h19m-16-376h14m-10 841h21m-19-931h14m-13 659h14m-8-193h21m-16-150h22m-18 343h14m-13-466h24m-22 738h14m-7-272h14m-10-193h28m-26-150h15m-10 615h15m-11-1010h14m-13 272h26m-18 738h26m-25-841h14m-12 569h14m-9-659h14m-8 466h14m-11-545h14m-12 272h14m-12-193h14m-12 931h24m-22-841h14m-13 569h19m-10-193h14m-12-616h14m-10 466h14m-13-226h14m-12 841h22m-18-738h14m-13-193h14m-8 90h14m-12 226h17m-16 150h22m-16 193h22m-17-569h14m-12 841h19m-16-738h14m-10 123h21m-19-226h14m-7 841h14m-12-738h21m-19 273h15m-12 193h28m-21-343h22m-11 150h30m-28 465h21m-12-738h21m-18-272h14m-7 395h17m-15 615h14m-10-272h21m-20-193h28m-19 465h14m-12-738h21m-19-103h14m-10 226h14m-11 343h55m-53-659h14m-12 931h14m-13-841h22m-16 376h19m-10-150h14m-11 615h14m-12-841h14m-7 376h30m-23-376h14m-10 226h24m-21 615h14m-8-738h30m-27 466h53m-49 272h17m-6-465h19m-16-376h14m-8 841h14m-7-465h17m-7-376h14m-12-90h14m-12 466h46m-44-150h22m-12-123h22m-20 466h17m-8 272h40m-34-841h14m-7 569h17m-12-659h14m-10 466h49m-48-150h35m-28 343h22m0 0h21m-19-659h14m-7 193h17m-15 123h21m-16 615h14m-7-272h14m-7-343h14m-12 615h17m-10-465h55m-51-273h19m-18 123h14m-6-226h14m-11 226h14m-10 343h22m-19-569h14m-3 226h14m-12 615h14m-11-738h22m-16 466h14m-12 272h24m-19-615h14m-12-395h14m-9 545h21m-19 193h21m-12-569h14m-13 103h15m-6-103h14m-12 569h15m-11-193h28m-25 465h40m-38-931h14m-10 659h26m-10-193h26m-19 193h22m-15-659h14m-10 931h17m-16-615h21m-12 343h30m-28-193h38m-34-273h14m-11 123h15m-1 615h28m-22-615h14m-3-316h14m-13 193h14m-12 123h14m-12-226h14m-12 569h19m-16 272h35m-29-465h14m0-150h21m-12 343h22m-20-193h38m-35 465h14m-5-615h17m-12 343h22m-18 272h15m-8-615h19m-12 615h14m-12-931h14m-12 466h14m-11 193h14m-10-343h14m-12 615h38m-37-465h21m-19-376h14m-10 569h22m-10-343h14m-10-123h14m-9 273h24m-20 193h42m-40-343h21m-11 615h28m-19-465h14m-12-466h14m-7 316h15m-11-123h14m-9 738h22m-18-272h76m-69-193h14m-2 465h14m-12-465h14m-12-150h14m-5 615h14m-12-465h28m-27-150h14m-8-123h14m-11 738h14m2 0h21m-12-465h14m-8 193h35m-28-193h26m-25 465h14m-5-615h22m-16 615h74m-64-738h14m-12 466h14m-12-193h14m-5 193h24m-20-193h14m0-150h26m-23-123h14m-12 273h14m-5-273h14m-10 466h19m-9-193h22m-20 465h37m-28-272h15m-6-343h14m-7 343h28m-21-193h14m-12-273h14m-5 273h22m-19-376h14m-12 841h14m-12-615h22m-18 343h14m-7 272h44m-41-465h22m-20 193h14m-9-343h14m-6 343h33m-28-466h14m-3 273h30m-25-273h14m-12 738h30m-20-615h21m-19 343h38m-29-193h15m-8 465h14m-8-465h15m-10 465h38m-25-615h14m-13-316h14m-12 659h14m-10-193h17m-5 193h14m-12-193h14m-12 465h28m-19-272h22m-12-193h14m-5 465h14m-12-272h35m-33-343h19m-7 615h22m-16-738h14m0 738h22m-20-272h14m-13-343h24m-16 150h14m-13 193h49m-40 272h26m-24-738h14m-10 273h14m-11-466h14m-7 316h14m-1 615h35m-23-272h21m-8-193h14m-9 193h37m-35 272h69m-58-465h15m1 0h21m-19-150h14m-13-123h14m-8 466h21m-7-193h14m-11-150h19m-15 343h14m-10-193h31m-19 465h22m-20-272h31m-26-343h14m1 150h21m-18 465h22m-20-615h14m-2 150h14m-12 193h14m-12-343h14m-9 615h35m-33-465h22m-20 193h19m-17-466h14m-7 123h19m-9 150h28m-24-376h14m-5 841h26m-22-272h19m-9-466h14m-12 273h14m-10 193h21m-20-343h14m-10 615h28m-23-465h14m-1 0h14m-11-150h14m-12 343h17m-12-466h14m-12 273h17m-11 465h56m-55-841h14m-1 569h22m-19-659h14m-10 466h14m-9-273h14m-1 466h14m-5-193h14m-11 193h14m-10 272h19m-17-738h14" stroke="#D55E00" stroke-width="14" stroke-opacity="0.8" fill="none"/>
<path transform="scale(0.1)" d="M503 1961h22m-20-36h14m-12-41h14m-12-14h14m-9 89h14m-12 25h14m-12-54h14m-13 108h14m-12-36h14m-12-51h14m-12-6h14m-13 73h14m-12-84h14m-12 16h14m-12-19h14m-12-16h14m-13 62h14m-12 12h14m-12-20h14m-12 76h14m-13-84h14m-12 133h14m-12-148h14m-12 49h14m-12 57h14m-13-40h17m-15 30h14m-10-86h14m-12 79h14m-13-11h14m-12-49h14m-12 54h14m-12-33h14m-13 74h14m-12-9h14m-12-50h14m-12-24h14m-12 107h14m-13-14h14m-12-81h14m-12 50h14m-12 57h14m-12-50h14m-13 41h14m-12-73h14m-12 112h14m-12-16h19m-18-43h14m-12 39h14m-10 17h14m-12-57h14m-13 25h14m-12 83h14m-12-207h14m-12 100h14m-13 81h14m-12-69h14m-12 89h14m-12-123h14m-12 33h14m-13 27h14m-12-23h14m-12-30h14m-12-16h14m-12-51h14m-13 265h14m-12-128h14m-12 41h14m-12-87h14m-13 89h14m-12-40h14m-12 31h14m-12-36h14m-12 13h14m-13 30h14m-12-45h14m-12-50h14m-12 100h14m-12 13h14m-13 27h14m-12-126h14m-12 159h14m-12-61h14m-13 75h14m-12-29h14m-12 36h14m-12-133h14m-12 106h14m-13 89h14m-12-28h14m-12 10h14m-12-42h14m-13-23h14m-12-57h14m-12 121h14m-12-12h14m-12-24h14m-13-93h14m-12 61h14m-12 55h14m-12-90h14m-12 152h14m-13-83h14m-12 39h14m-12-80h14m-12 57h15m-12 16h14m-12-15h14m-12 14h17m-15 53h14m-11-81h14m-12-31h14m-12 38h14m-12 101h14m-13-69h14m-12 21h14m-12-108h14m-12 80h14m-13 51h19m-17 10h14m-12-80h14m-10 150h14m-13-87h14m-12 6h14m-12-16h14m-12 5h14m-13-72h14m-12 21h14m-12-25h14m-12 153h14m-12-67h14m-13 59h14m-12-18h14m-12 23h14m-12 10h14m-12 47h14m-13-139h14m-12 73h14m-12 14h14m-12-32h14m-13 12h14m-12 9h14m-12 31h14m-12-58h14m-12 139h14m-13-208h14m-12 48h14m-12 56h14m-12 64h14m-12 56h14m-13-97h14m-12 30h14m-12 33h14m-12-41h14m-13-36h14m-12 144h14m-12-36h14m-12-135h14m-12 70h14m-13-62h14m-12 110h14m-12-18h14m-12 29h14m-12-176h14m-13 203h14m-12 3h14m-12-88h14m-12-70h14m-13 178h14m-12-31h14m-12 45h14m-12-117h14m-12-4h14m-13 36h14m-12 45h14m-12-60h14m-12 31h14m-13-14h14m-12 60h14m-12-75h14m-12 69h14m-12-43h14m-13 42h14m-12-74h14m-12 45h14m-12-87h14m-12 39h14m-13 133h14m-12-98h14m-12 80h14m-12 44h14m-13-158h14m-12 36h14m-12-61h14m-12 135h14m-12 3h14m-13-49h14m-12-84h14m-12 97h14m-12 69h14m-12 16h14m-13-48h14m-12 15h14m-12-82h14m-12 64h14m-13-35h14m-12 72h14m-12 59h14m-12-77h14m-12 44h14m-13-76h14m-12 30h14m-12 45h14m-12-113h14m-13-60h14m-12 174h14m-12 85h14m-12-128h14m-12-13h14m-13 140h14m-12-39h14m-12-24h14m-12-50h14m-12 6h14m-13 72h14m-12 32h14m-12-8h14m-12-34h14m-13-118h14m-12-22h14m-12 80h14m-12 59h14m-12-19h14m-13 33h14m-12-30h14m-12-56h14m-12 59h14m-12-17h14m-13-29h14m-12 74h14m-12-14h14m-12 18h15m-12 42h14m-12-121h14m-12 71h14m-12 55h14m-13-16h14m-12-64h14m-12 34h14m-12-60h14m-13 150h14m-12-34h14m-12-60h14m-12 35h14m-12 44h14m-13 20h14m-12-54h14m-12-25h14m-12 33h14m-12-35h14m-13 88h14m-12 28h14m-12-152h14m-12 14h14m-13 38h14m-12-22h14m-12-5h14m-12 21h14m-12 48h14m-13-54h14m-12 87h14m-12 42h14m-12-26h14m-12-76h14m-13 20h14m-12-38h14m-12 61h14m-12-18h14m-13-8h14m-12 81h14m-12-26h14m-12-137h14m-12 89h14m-13-55h14m-12 92h14m-12 9h14m-12-83h14m-13 59h14m-12-19h15m-11 30h14m-12 43h14m-13 72h14m-12-45h14m-12 30h14m-12 31h14m-12-27h14m-13-92h14m-12-87h14m-12 167h14m-12-25h14m-13-22h14m-12-14h14m-12 49h14m-12-88h14m-12 71h14m-13-77h14m-12 120h14m-12 6h14m-12-142h14m-12 123h14m-13 34h14m-12-167h14m-12 79h14m-12-37h14m-13 92h14m-12-32h14m-12 73h14m-12-47h14m-12 44h14m-13 12h14m-12-119h14m-12 125h14m-12-73h14m-13 11h14m-12-19h14m-12 52h14m-12 21h14m-12-24h17m-16-8h14m-10 9h14m-12 25h14m-12 23h14m-13-53h14m-12-25h14m-12 35h14m-12 89h14m-13-79h22m-20 11h14m-12 3h14m-12-45h14m-12-4h14m-11 6h14m-12 61h14m-12-5h14m-12-59h14m-13 33h14m-12-10h14m-12 114h14m-12-51h14m-13-58h14m-12 4h14m-12-29h14m-12-1h14m-12 92h14m-13-79h14m-12 120h21m-19-55h15m-12-27h14m-10 2h14m-12 7h14m-12 112h14m-13-173h14m-12 153h14m-12-77h14m-12 100h14m-12-113h14m-13 19h14m-12 221h14m-12-262h14m-12 57h14m-13-3h14m-12-97h14m-12 15h14m-12 36h14m-12 140h14m-13-153h14m-12 50h14m-12-19h14m-12 110h14m-12-64h14m-13 54h14m-12-25h14m-12 26h14m-12-3h14m-13-60h14m-12 41h14m-12 7h14m-12 28h14m-12-61h14m-13 73h14m-12-48h14m-12 54h14m-12-81h14m-13 76h14m-12 53h14m-12-31h14m-12-56h14m-12 49h14m-13 82h14m-12-108h14m-12 13h14m-12-39h14m-12-35h14m-13 87h14m-12 73h14m-12 4h14m-12-78h14m-13-80h14m-12 29h14m-12-58h14m-12 98h14m-12-5h14m-13-25h14m-12-29h14m-12 113h14m-12-77h14m-12-33h14m-13 99h14m-12-9h14m-12-92h14m-12 116h14m-13-76h14m-12 56h22m-20 85h14m-12-27h14m-12 18h14m-13-85h14m-10 27h14m-12-25h14m-13 43h14m-12 79h14m-12-133h14m-12 31h14m-12-5h22m-21 126h14m-12-192h14m-12 209h14m-12-61h14m-11 16h14m-12-96h14m-12 79h14m-12-71h14m-13 10h14m-12-4h14m-12 22h14m-12 5h14m-12 42h14m-13-13h17m-15 9h14m-10 96h14m-12-48h14m-13-16h14m-12-164h14m-12 150h14m-12 119h14m-13-137h14m-12-106h14m-12 38h14m-12 59h14m-12-44h14m-13 47h14m-12 30h14m-12 22h14m-12-194h14m-13 185h14m-12-97h14m-12 81h14m-12-12h14m-12-42h14m-13-7h14m-12 159h14m-12-148h14m-12-24h14m-12 120h14m-13 43h14m-12-39h14m-12-107h14m-12 37h14m-13 100h14m-12-80h21m-19-25h14m-12-5h22m-20 81h14m-11-63h14m-12-3h14m-10-49h14m-13 107h14m-12-43h14m-12-17h14m-12 101h14m-13-33h14m-12 10h14m-12-31h14m-12 50h14m-12-69h14m-13 44h14m-12-55h14m-12-27h14m-12 125h14m-13-126h14m-12 84h14m-12 97h14m-12-164h14m-12 89h14m-13-40h14m-12-25h14m-12 58h14m-12 45h14m-12-110h14m-13-18h14m-12 232h14m-12-84h14m-12 13h22m-21 48h14m-12-103h14m-12-78h21m-19 11h14m-11 74h14m-10-48h14m-12-80h14m-12 171h14m-13-101h14m-12 22h14m-12-40h14m-12 66h14m-13 30h14m-12 34h22m-20-110h14m-12 82h14m-12 34h14m-13-84h14m-10 63h14m-12 7h14m-13 24h15m-11-154h14m-12 43h14m-12 137h15m-12-113h14m-12 15h14m-12 60h14m-12-61h14m-13 69h14m-12 12h14m-12-63h14m-12 121h14m-13-194h14m-12 56h14m-12 56h14m-12 121h14m-12-140h14m-13 29h14m-12 26h14m-12 38h14m-12-36h14m-12-6h14m-13 53h14m-12-71h15m-11 102h19m-18-116h14m-12-109h14m-10 218h14m-12-18h14m-13-152h14m-12 133h14m-12-68h14m-12-56h14m-13 37h14m-12 21h14m-12 24h14m-12 35h14m-12-65h14m-13 48h14m-12 13h14m-12 8h14m-12-25h14m-12 8h14m-13 5h14m-12 25h14m-12-97h14m-12 84h14m-13-97h14m-12 68h14m-12 12h14m-12 59h14m-12-52h14m-13 57h14m-12-172h14m-12 156h14m-12-24h14m-12 78h14m-13-158h14m-12 28h14m-12-4h14m-12 78h14m-13 58h22m-20-17h14m-12-139h14m-12 147h14m-12-73h14m-11-17h14m-12-61h14m-12 91h14m-13 24h14m-12-69h14m-12 74h14m-12-2h14m-12 114h14m-13-137h14m-12 5h14m-12 39h14m-12-3h14m-12 206h14m-13-194h14m-12-59h14m-12 54h14m-12-30h14m-13 7h14m-12-34h14m-12-10h14m-12-32h22m-20 60h15m-12 23h14m-12-12h14m-10-54h14m-13 25h14m-12 65h14m-12-31h14m-12-20h14m-13 43h14m-12 37h14m-12 28h22m-20-184h14m-12 124h14m-13-14h14m-12 77h14m-10-70h14m-13-46h14m-12 27h14m-12 31h14m-12-64h14m-12 163h14m-13-123h14m-12 14h14m-12 112h14m-12-184h14m-12 9h14m-13 118h14m-12 40h14m-12-136h14m-12 86h14m-13 67h14m-12-6h14m-12-91h17m-15 66h22m-19 108h14m-12-221h14m-12 37h14m-10 12h14m-13 106h14m-12-180h14m-12 141h14m-12 71h14m-13-15h14m-12-156h14m-12 105h14m-12 146h14m-12-89h14m-13-138h14m-12 135h14m-12 18h14m-12-9h14m-13-102h14m-12-5h14m-12 55h14m-12-16h15m-12 22h14m-12 11h14m-12 44h14m-12-96h14m-12 127h14m-13 19h14m-12-199h14m-12 91h14m-12-73h14m-13 38h14m-12-89h14m-12 19h14m-12 116h14m-12-43h14m-13 87h14m-12-133h14m-12 35h21m-19 95h14m-12 6h14m-13-12h14m-10 76h14m-12-225h14m-13 176h14m-12-56h14m-12 53h14m-12-12h38m-36-32h14m-13 54h14m-12-25h14m-12-60h14m-11 57h14m-12 107h14m-12-116h14m-10-37h14m-13 122h14m-12-48h14m-12 127h14m-10-105h14m-13-105h14m-12 37h14m-12 3h14m-12 98h14m-13-124h14m-12 121h22m-20-71h14m-12 47h14m-12-16h14m-13 111h14m-10-85h14m-12-92h14m-12 8h14m-13 118h14m-12-17h14m-12-52h14m-12 55h14m-13-61h14m-12 19h14m-12 199h14m-12-209h14m-12 231h14m-13-199h14m-12 41h14m-12 71h14m-12-31h21m-19-67h14m-13 86h14m-12-103h14m-10 44h14m-13-104h14m-12 118h17m-15-90h14m-10 162h14m-13-96h14m-12-120h14m-12 83h14m-12 58h14m-13-32h14m-12 57h14m-12-112h14m-12 109h14m-12-11h14m-13-29h14m-12-34h14m-12-3h14m-12 27h14m-12 53h14m-13 27h14m-12-170h14m-12 162h14m-12 73h14m-13-80h14m-12-196h14m-12 15h14m-12 102h14m-12 17h14m-13-96h14m-12 69h14m-12 81h14m-12 50h14m-12-90h14m-13-67h14m-12 60h14m-12 230h14m-12-280h14m-13 139h14m-12-34h14m-12-41h14m-12 18h14m-12-72h14m-13 69h14m-12 29h14m-12 8h14m-12-62h14m-13 81h14m-12-132h14m-12 199h15m-11-78h14m-13-38h14m-12 34h15m-11-38h14m-12 86h14m-13-56h14m-12 149h14m-12-193h21m-19 71h14m-13-96h14m-12 39h14m-10 98h14m-12-8h14m-13-75h14m-12-54h14m-12 108h14m-12-35h14m-12-100h14m-13 116h14m-12 70h14m-12-30h14m-12-64h14m-13 172h14m-12-133h14m-12 105h14m-12-159h17m-15 75h14m-11-82h14m-12 190h14m-12-179h14m-13 35h14m-12-24h14m-12-82h14m-12 230h14m-12-100h14m-13 120h14m-12-243h14m-12 114h14m-12 174h14m-12-110h19m-18-39h14m-12 70h14m-10-66h14m-13 44h14m-12 56h14m-12-112h14m-12 131h14m-12-148h14m-13-76h14m-12 41h14m-12-11h14m-12 97h14m-12-13h14m-13 48h14m-12-4h22m-20-113h19m-17 108h14m-13 66h14m-8-38h14m-12 14h14m-13-64h17m-15 22h14m-10 18h22m-21-118h14m-12 128h14m-12-117h14m-12-34h14m-11 79h14m-12 9h14m-12 58h14m-12-14h14m-12-128h14m-13 151h14m-12-58h14m-12-13h14m-12 105h14m-13-38h14m-12 48h14m-12 75h14m-12-146h14m-12 92h14m-13 49h14m-12-168h14m-12-51h14m-12 25h14m-12 104h14m-13 15h14m-12-97h14m-12 58h14m-12-9h14m-13 90h14m-12-26h14m-12-118h14m-12-33h14m-12 106h14m-13-68h14m-12 107h19m-17 93h14m-12-127h14m-11-10h14m-12 109h14m-12-168h14m-12 40h14m-13 38h17m-15 36h14m-10-45h14m-12 151h14m-13-202h14m-12-18h14m-12 98h14m-12-5h14m-13 75h14m-12 17h15m-11-50h14m-12-135h14m-13 78h14m-12-24h14m-12 29h14m-12 62h14m-12-36h14m-13-69h14m-12 95h14m-12 91h14m-12-97h14m-13-125h14m-12 169h14m-12-164h14m-12 153h14m-12-27h14m-13 85h14m-12-166h14m-12 70h14m-12-50h14m-13 183h14m-12-128h14m-12-102h14m-12 146h19m-17-90h14m-13 36h14m-10-26h14m-12 36h15m-12 73h14m-12 12h14m-12-6h14m-12-63h14m-13-132h14m-12 213h14m-12 19h21m-19-89h14m-12 12h14m-13 5h19m-15-75h14m-10 166h14m-13-62h14m-12 24h14m-12-123h14m-12-5h14m-13-102h14m-12 177h14m-12-5h17m-15 46h14m-11 69h14m-12-190h31m-29 103h14m-12-23h14m-13-44h14m-12 188h14m-10-326h14m-12 235h14m-13-81h14m-12 138h14m-10-38h14m-12 94h14m-13-69h14m-12-182h14m-12 114h14m-12-57h14m-13-5h14m-12 68h14m-12-40h14m-12 122h19m-17-245h14m-13 53h14m-10-24h14m-12 152h14m-12-148h14m-13 160h17m-15-179h14m-10 161h15m-12 25h14m-12-49h14m-12-93h14m-12 129h19m-18-18h14m-12-35h14m-10 11h14m-13 107h14m-12-33h14m-12 26h14m-12-64h14m-12 120h19m-18-42h14m-12 13h14m-10-161h14m-12 70h14m-13 142h14m-12-104h14m-12 53h14m-12-115h14m-13 189h14m-12-114h14m-12-153h14m-12 27h14m-12 100h14m-13-137h14m-12 176h14m-12-134h14m-12-37h14m-12 107h14m-13-53h14m-12 59h14m-12 13h14m-12 65h14m-13-40h14m-12-125h14m-12 57h14m-12 30h14m-12 136h14m-13-217h14m-12 210h14m-12-123h14m-12 101h15m-12-56h14m-12-26h14m-12-49h14m-12 18h14m-13 12h14m-12 130h14m-12 16h14m-12-114h14m-12 106h14m-13-119h14m-12 40h14m-12 27h17m-15-116h14m-11 96h17m-15-72h14m-10 183h14m-13-253h14m-12 278h22m-20-64h14m-12-125h14m-12 102h14m-13-43h14m-10-251h14m-12 131h14m-13 80h14m-12-68h14m-12-78h14m-12 260h14m-12-120h14m-13 112h14m-12 81h14m-12-160h14m-12 135h14m-13-175h14m-12 244h14m-12-162h14m-12 135h14m-12-75h22m-21-31h14m-12-44h17m-15 8h14m-9 108h14m-12-101h21m-19 45h14m-12 31h14m-13 33h14m-10-228h14m-12 31h14m-12 6h14m-13 200h14m-12-42h14m-12-62h14m-12 38h14m-12-52h14m-13-75h14m-12 184h14m-12-151h14m-12 135h14m-13-56h14m-12-131h14m-12 79h14m-12 187h14m-12-127h14m-13-31h14m-12-49h14m-12 119h14m-12 34h14m-13-81h14m-12 107h17m-15-226h14m-10 166h14m-13-16h14m-12-54h14m-12-76h14m-12 69h14m-12 244h14m-13-133h14m-12 17h14m-12 18h14m-12-153h14m-13-107h14m-12 307h14m-12-132h14m-12-103h14m-12 265h14m-13-312h14m-12 333h14m-12-175h14m-12-24h14m-12-15h14m-13 98h14m-12-90h15m-11 82h14m-13 93h14m-12-48h14m-12 89h14m-12-290h14m-12 89h14m-13 93h14m-12-26h24m-22-51h14m-11 196h14m-12-100h14m-12-10h17m-12-61h14m-12 204h14m-12-268h14m-12 39h21m-19 124h21m-20 40h14m-12-87h14m-9-116h14m-12-15h14m-12 62h14m-12 146h14m-12 187h14m-13-308h14m-12 63h14m-12 100h14m-12 81h14m-12-92h28m-27-177h14m-12 17h14m-12 129h14m-12-112h14m-11-50h14m-12 85h14m-10 152h14m-13-22h14m-12-121h14m-12-140h14m-12 178h14m-13-132h14m-12 123h14m-12 103h14m-12-242h14m-12 120h14m-13 38h22m-20-29h14m-12 184h15m-11-135h19m-16-95h14m-10 65h14m-13-132h14m-12 25h14m-12 117h14m-12-134h14m-12-31h14m-13 284h14m-12 12h14m-12-121h14m-12 74h14m-12-11h14m-13-92h14m-12 81h14m-12-42h15m-12-95h19m-17 148h14m-12-102h14m-10 124h15m-12-204h14m-12 71h14m-12-28h14m-13 128h14m-12-72h19m-17-47h14m-12-69h14m-11 177h19m-17-126h14m-12 46h14m-10 160h14m-13-197h14m-12 107h14m-12-51h14m-12 40h22m-21-105h14m-12 206h30m-26-179h14m-11 143h14m-12-11h14m-10 23h14m-12-107h14m-11 10h21m-19-119h14m-12 26h14m-13-43h14m-10 97h14m-12 70h14m-12 43h21m-20-11h14m-12 175h22m-20 126h14m-11-66h14m-12-267h14m-10-60h14m-12-64h14m-13 214h14m-12-188h14m-12 77h14m-12 42h14m-12-62h14m-13 51h14m-12-89h14m-12 193h14m-12 52h14m-13 13h14m-12-27h14m-12 41h14m-12-214h14m-12 148h15m-12-178h15m-11 72h17m-15-119h14m-11 176h21m-19-24h14m-12 168h14m-13 111h14m-10-219h14m-12-93h15m-12 106h14m-12-251h14m-12 214h14m-12 62h14m-13-142h14m-12 242h14m-12-252h14m-12-51h14m-12 287h14m-13-334h14m-12 152h14m-12-85h14m-12 145h14m-12 65h14m-13-169h14m-12-61h14m-12 419h14m-12-175h14m-13-66h14m-12-13h14m-12 65h21m-19-136h14m-12-33h14m-13 44h14m-10-33h14m-12 57h14m-12 61h14m-13 27h14m-12-217h14m-12 230h17m-15 287h14m-11-259h14m-12 45h21m-19-59h14m-12-27h14m-13-27h14m-10-218h14m-12 258h14m-12-52h19m-18-73h14m-12 112h14m-10 41h14m-13 45h14m-12-150h15m-11 248h14m-12-296h14m-13 314h14m-12-358h14m-12 56h14m-12 100h14m-13-88h14m-12-119h14m-12 193h14m-12-98h14m-12 501h14m-13-671h14m-12 230h14m-12-93h14m-12 295h14m-12-177h21m-20-150h14m-12 190h14m-12-52h14m-11 223h14m-12-51h14m-12-147h14m-12 55h14m-12-218h14m-13 344h14m-12-312h14m-12 201h14m-12-95h14m-12 259h14m-13-320h14m-12 12h26m-22 74h14m-11 100h14m-12-322h14m-12 277h14m-11-80h14m-12 241h14m-12-202h14m-12 117h28m-27-76h14m-12 198h14m-12-169h14m-12-122h14m-11 138h14m-12-73h14m-10-40h15m-12 68h26m-24 109h14m-9-150h14m-10 27h14m-10 123h14m-13-33h14m-12-131h14m-12 14h14m-12 279h14m-12-355h14m-13 209h21m-19 34h14m-12-194h14m-12 68h21m-18-14h14m-12 90h14m-10-47h14m-13 209h17m-15-146h14m-10 210h14m-13-193h14m-12-150h14m-12 86h14m-12 116h14m-12-189h14m-13 57h14m-12 150h14m-12-87h14m-12-32h19m-17 16h14m-13-117h14m-10 184h14m-12-307h14m-13 193h14m-12-43h14m-12 90h14m-12-181h14m-12 105h14m-13 45h14m-12 116h14m-12-35h14m-12-167h14m-12 133h14m-13 146h14m-12-293h14m-12 55h15m-12 179h19m-17-193h14m-12 175h14m-10 187h14m-13-441h14m-12 352h14m-12-230h14m-12 47h14m-13 103h17m-11-87h14m-12-77h14m-13 111h14m-12 154h14m-12 93h14m-12-264h14m-12-33h15m-12 122h28m-26 20h14m-12-189h14m-13 114h14m-12-34h19m-15 129h14m-9-95h22m-20 18h15m-11 212h14m-13-313h17m-11 220h14m-13-188h14m-12-47h19m-17 116h19m-17-35h14m-9 133h14m-12-41h14m-12-109h14m-13-49h14m-12 83h14m-12-143h14m-12 45h22m-20 81h22m-21 176h14m-10-193h21m-16 70h21m-17-36h14m-12 18h14m-11 57h19m-17-158h14m-9 32h14m-12-16h14m-12 204h14m-12-171h14m-12 216h15m-12-66h14m-12 139h14m-12-306h14m-13 87h14m-12 301h14m-12-282h17m-15 40h22m-19-279h17m-15 414h14m-9-114h17m-15-214h14m-10 173h14m-12-75h14m-13 36h14m-12-53h14m-12-34h14m-12 281h14m-12-93h19m-18 68h14m-12-169h14m-10 19h22m-21-106h14m-10 17h14m-12 193h14m-11-343h14m-12 259h14m-12 41h14m-12-167h14m-12 256h14m-13 25h14m-12 137h14m-12-349h14m-12 98h15m-12 139h14m-12 26h14m-12-226h14m-12 104h14m-13 46h14m-12-89h14m-12-116h14m-12-34h14m-13 171h22m-20 45h14m-12-87h14m-12 186h14m-12-409h14m-11 77h14m-12 233h14m-12-249h14m-12 272h14m-13-169h17m-15 301h14m-10-82h14m-13-118h14m-12-21h14m-12-61h14m-12-37h14m-12 164h14m-13 73h14m-12-96h14m-12-43h14m-12-80h14m-12 169h14m-13-205h14m-12 230h14m-12-155h14m-12 62h14m-13 172h14m-12-104h28m-26 76h14m-12-186h21m-19 135h14m-13-281h14m-8-16h14m-11 142h14m-12 292h14m-12-58h17m-15-127h14m-11 99h14m-12-226h14m-12 282h14m-12 62h14m-13-304h17m-15 160h14m-10-96h14m-13 150h14m-12-28h14m-12-99h15m-11 48h14m-13-71h14m-12-193h21m-19 371h22m-20-262h14m-12 206h14m-11-51h14m-10 169h14m-13-217h14m-12 185h14m-12-272h14m-12 64h19m-17-84h14m-13 41h14m-10 221h15m-12-107h21m-17 51h14m-12-165h14m-11 21h14m-12 329h14m-12-483h14m-12 416h14m-12-304h14m-13 87h14m-12 99h17m-15-51h22m-19 137h22m-20-272h19m-17 445h14m-7-358h14m-12-23h14m-12 46h14m-12 132h22m-21-28h19m-17 90h14m-12-262h19m-12 230h14m-12-185h14m-12 284h14m-13-448h14m-12 212h28m-26 272h14m-12-297h14m-11 261h14m-12-129h14m-12-200h14m-9 118h14m-12 54h14m-12 28h14m-12 165h14m-13-36h14m-12-430h14m-12 331h22m-20 408h14m-13-344h14m-12-498h14m-12 249h14m-10 99h14m-13-122h14m-12 46h21m-19 297h14m-12-247h14m-12 144h21m-18-217h14m-12-23h14m-11 96h14m-12 112h14m-12 99h19m-17-236h14m-12-135h14m-11 336h21m-19-226h14m-12-150h14m-13 82h14m-10 488h14m-12-226h30m-28-62h14m-13-107h14m-12-48h15m-9 99h14m-13 28h14m-12-54h14m-10 112h21m-20 408h14m-12-309h24m-22-185h14m-10 118h14m-11 226h22m-18-194h22m-20-176h14m-13 54h21m-17-28h26m-19-51h14m-12 491h14m-12-354h14m-11-162h14m-12 50h14m-12 144h14m-13 322h14m-12-181h14m-12-38h14m-12 545h14m-12-680h22m-21-58h22m-20-28h14m-12-26h14m-7 144h14m-12-283h14m-12 605h14m-13 54h14m-12-408h14m-12 135h14m-12-247h28m-26 144h14m-13 226h21m-19-159h14m-12-35h14m-9-122h14m-10 466h14m-12-593h14m-13 651h14m-12-331h22m-20-165h15m-11 62h14m-13 67h14m-10 205h14m-12-441h14m-13 395h24m-22-344h14m-12 150h14m-10-122h14m-13 28h14m-10-82h14m-12 466h14m-12-584h14m-13 45h14m-12 48h15m-11 236h14m-13-67h15m-11 32h14m-12-64h14m-12-112h14m-13 285h14m-12-259h14m-12 221h14m-12-272h14m-12 351h14m-13-399h14m-12 23h14m-12 132h14m-12 288h14m-13-226h14m-12 141h14m-12-109h22m-20 150h14m-12-115h14m-13 159h14m-12-344h17m-12 552h14m-12-603h14m-12 351h33m-31-79h14m-12-103h14m-13-62h14m-10 129h14m-10 74h22m-19-38h14m-12 169h14m-9-240h14m-12-32h14m-12 226h19m-17-316h14m-13 58h14m-10 64h14m-12 240h14m-12-489h14m-13 651h14m-12-367h14m-12-67h14m-12 103h14m-13-71h14m-12-150h14m-12 494h14m-12 272h14m-12-466h14m-13 140h17m-15-584h14m-10 488h15m-12 46h14m-12-90h14m-12-115h14m-12 74h21m-20 235h14m-12-438h14m-12 334h14m-10 50h14m-13-322h17m-15 182h22m-17-399h14m-12 539h28m-24-562h14m-11 71h19m-17 169h14m-12 67h14m-9 36h14m-12 79h30m-28 194h14m-12-680h14m-13 304h14m-10 141h14m-12 293h14m-12 214h14m-13-150h14m-10-272h21m-19-123h14m-12-247h14m-13 578h17m-11-162h14m-13 104h28m-24-545h14m-10 351h14m-11-79h14m-12 331h14m-11-578h14m-12 370h15m-11 96h14m-12-181h21m-20 131h14m-12-90h14m-12 659h14m-10-774h17m-16 309h19m-15 122h14m-11-357h14m-12 85h14m-12 96h14m-12-255h15m-12 115h14m-12-41h30m-28-38h14m-10 331h14m-13-58h14m-10-194h21m-19-272h14m-13 362h14m-8 50h17m-15-96h21m-18 150h14m-12-235h22m-19-203h14m-10 244h14m-10 90h14m-13 104h14m-12-466h14m-12 157h14m-12 36h14m-12 331h17m-16-208h14m-10 96h14m-12-181h17m-16 41h17m-11 194h14m-12-309h17m-16 255h14m-10-181h14m-12 131h14m-12 104h19m-18-150h14m-12-123h14m-10 331h14m-13 214h14m-12-466h33m-31-41h14m-12-109h14m-12 35h15m-7 431h14m-12-395h14m-12-135h14m-10 258h14m-13 343h22m-20-428h14m-12-141h14m-12 272h14m-12 226h14m-11-176h17m-15 112h19m-16-162h14m-10 297h14m-12-466h14m-12 123h14m-13-159h15m-11 115h17m-15-214h14m-11 173h14m-12 428h14m-12-297h44m-42 376h14m-13-272h14m-12-54h14m-12 176h14m-10-272h15m-10-44h30m-27-182h14m-8 322h14m-12 519h14m-13-103h14m-8-240h14m-12 71h14m-13-466h14m-12 331h21m-19-112h14m-12 416h14m-13-466h14m-10-169h14m-12 545h14m-12-507h14m-13 85h14m-12-44h14m-12 140h14m-12-50h14m-12 162h37m-36-58h17m-15-150h14m-9 512h14m-12-556h14m-10 44h14m-11 96h15m-11-181h14m-11 357h14m-12-431h14m-12 671h14m-12-466h26m-24-131h14m-13 235h31m-25 193h15m-10-502h14m-10 581h14m-13-326h17m-11 176h14m-12-226h22m-21-90h14m-12-41h15m-11 293h33m-30 214h14m-12-326h19m-17 247h28m-21-297h14m-10-90h14m-9 466h17m-15-272h22m-19 122h14m-10-176h24m-21-50h14m-12 569h14m-10-343h14m-11 150h30m-28-272h14m-9-438h14m-12 560h37m-33 71h21m-19 169h14m-7 103h19m-16-615h14m-10 208h14m-12 135h14m-11 169h14m-12-416h14m-12 326h15m-12-376h14m-12 297h21m-19-343h14m-12-123h14m-9 219h14m-12 176h14m-12-64h14m-13-58h24m-20 465h14m-12-272h14m-12 79h14m-13-214h31m-27-162h21m-19 50h14m-13 792h14m-6-545h24m-23-193h14m-10 465h14m-10 123h14m-11-861h14m-12 169h14m-12-90h15m-12 659h14m-12-272h19m-17-71h40m-38 150h14m-9-272h14m-12 588h14m-11 343h14m-12-659h14m-10-376h14m-13 50h14m-12 416h14m-10-362h14m-11-150h14m-12 96h14m-12-181h14m-12 507h22m-21-272h14m-12 193h14m-12-135h14m-9 64h47m-45 240h14m-12 103h14m-12-272h21m-18-297h14m-12 376h14m-10 90h14m-11-416h14m-12-50h30m-28 376h14m-12-79h28m-23-247h14m-11 519h14m-6-103h17m-16-304h14m-10 407h19m-17-465h24m-22 272h14m-9-150h14m-12 240h17m-12-416h14m-12-50h14m-12 226h15m-12-64h17m-15 304h51m-46-706h14m-12 537h19m-12-247h15m-9 176h17m-16-226h14m-8 376h21m-20-214h14m-10-208h14m-10-44h14m-11 316h19m-17-64h26m-24-58h21m-12 272h19m-16 193h19m-12-103h22m-20 226h14m-12-466h14m-12-64h14m-12 135h14m-11-193h21m-19 465h14m-12-193h14m-13-150h14m-10-226h22m-20 692h14m-12-226h24m-23-304h14m-12 407h14m-9-519h22m-18 1257h14m-12-1010h19m-17-466h14m-9 861h31m-29-588h19m-17 272h22m-12-214h14m-12 64h14m-10 71h21m-20 169h21m-19-362h14m-12 58h14m-9 64h17m-15-395h14m-10 219h22m-21 247h14m-12 169h30m-28 841h14m-12-738h14m-9-193h37m-35-79h15m-6-71h14m-11 616h14m-12-273h14m-10 123h22m-20-226h14m-11-169h22m-20 272h14m-11 273h21m-19-376h14m-10-90h14m-11 659h14m-12-809h14m-12-64h14m-12-112h14m-12 642h21m-20-588h14m-12 362h14m-12 103h14m-11-407h14m-12 214h14m-12-79h30m-28 738h15m-12-809h14m-12 343h14m-9 738h14m-12-931h22m-16 90h14m-9 103h15m-11 123h19m-18-226h14m-12 376h14m-10-792h17m-16 519h19m-15-103h14m-10 226h14m-13-466h14m-12-272h14m-12 343h24m-22 169h15m-10-416h14m-9 326h42m-40 466h14m-12-616h22m-18 343h14m-7 123h14m-13-642h14m-12-50h14m-10 1307h14m-12-465h14m-11-273h14m-10-272h19m-17-71h14m-13 240h42m-38 376h22m-20-466h14m-11 316h14m-12-123h14m-7-272h14m-12 395h30m-28-123h14m-4-272h15m-9 1010h14m-12-931h14m-13 90h14m-12 103h14m-12-407h14m-12 530h26m-25-588h14m-12 738h15m-9-616h21m-16 71h14m-10 272h14m-13-103h14m-12-90h14m-12-272h14m-12 1203h14m-13-615h28m-26-530h14m-8-58h14m-13 465h17m-15-193h26m-17-150h14m-12-64h17m-12 304h14m-12 103h24m-22-343h14m-9 466h21m-19 150h14m-11-466h14m-10 90h14m-12 841h15m-12-465h19m-17 193h14m-12-466h14m-10-343h14m-13 71h14m-12-135h21m-19 304h28m-25-416h14m-10 519h28m-24-343h14m-9 466h14m-10-316h14m-11-422h14m-12 96h14m-12 792h14m-13-376h46m-44-240h14m-12 466h19m-15-588h14m-11 931h14m-12-873h14m-10 407h14m-11 123h14m-9-395h22m-20 272h14m-12-407h14m-12 873h14m-9-659h14m-12-150h28m-26 616h14m-11-376h24m-22-416h14m-12 642h14m-5 615h14m-12-272h14m-13-738h14m-12 545h28m-24-150h14m-9-466h14m-12 240h22m-20 841h14m-11-272h14m-8-343h21m-20-466h22m-20 343h14m-12-193h14m-11 466h19m-15 193h26m-22-466h28m-27 738h14m-8-931h14m-9 316h31m-26-316h14m-10 90h14m-10 103h22m-12-103h21m-19 569h14m-12-193h26m-24-466h19m-10-79h14m-11 169h22m-20 569h14m-11-466h28m-26-343h17m-8 466h14m-9-316h19m-17-214h14m-12 304h22m-17 376h14m-12-150h14m-10-395h14m-12 272h14m-13-519h14m-10 792h19m-17-376h14m-13 841h19m-15-272h14m-10-343h14m-13-226h19m-17-304h14m-12 407h38m-31 466h24m-19-659h14m-12 316h14m-7-226h24m-18 376h24m-23 193h14m-12-659h46m-42-272h14m-7 588h14m-12-226h14m-9 103h14m-12 273h14m-11-376h14m-10 569h14m-12-343h21m-19 150h22m-19 465h14m-7-841h14m-12 569h14m-12-659h14m-12 316h14m-13-642h14m-12 176h14m-12 343h14m-12 466h14m-12-569h14m-13 841h14m-12-615h15m-11-316h14m-13 193h24m-22 273h19m-17-376h19m-10 569h19m-17-809h14m-9 240h14m-12 376h14m-12-150h21m-20-123h14m-12-343h14m-12 71h14m-10 738h14m-13-193h33m-31 465h14m-12-1397h14m-12 659h42m-37 466h14m-7-343h26m-22-226h14m-9-169h14m-5 545h17m-15 193h21m-16-343h14m-10-395h14m-12 79h19m-18 193h15m-9 273h28m-27-376h14m-12 569h17m-11-466h24m-23 738h14m-12-931h14m-3 931h14m-12-841h30m-29-90h14m-10 466h22m-17-150h44m-42-123h14m-9 466h14m-6-193h14m-7-273h24m-21-407h14m-5 873h15m-11 272h14m-12-1010h14m-13 169h14m-12 376h30m-28-466h14m-12 316h24m-21 615h14m-8-841h30m-25 103h21m-9-193h14m-12 659h31m-29-193h14m-12 465h19m-16-841h14m-6-169h14m-9 395h17m-12-226h28m-26-90h14m-12 466h21m-16-150h33m-26-123h46m-40 466h14m-13-193h14m-6-466h15m-10 90h14m-12 841h14m-13-615h14m-10 150h30m-26 193h28m-23-569h14m-12 841h14m-5-931h19m-18 316h22m-20 615h14m-8-465h44m-39-273h14m-12 738h14m-11-841h22m-18 569h14m-5-343h14m-11-466h14m-12 809h14m-10 272h17m-16-615h19m-15-123h19m-15 273h14m-11-376h17m-15 569h14m-9 272h14m-12-1081h14m-12 616h14m-12-150h15m-12-226h17m-11 103h14m-13 738h30m-28-615h37m-33-316h14m-11 659h33m-29-193h15m-6-545h14m-4 1010h14m-12-465h42m-40-273h26m-22-103h14m-11-169h14m-10 395h14m-7 615h14m-12-272h14m-13-569h14m-10 103h22m-18-193h15m-12 931h14m-10-272h26m-24-193h28m-20-150h14m-6 615h14m-13-738h14m-12-193h17m-12 90h14m-10 376h58m-56 465h22m-19-738h14m-3 466h19m-8-738h14m-12 395h14m-7 343h19m-9-466h14m-12-103h14m-12 226h21m-19 343h31m-22-659h14m-13 466h24m-20-273h14m-9 738h17m-11-841h14m-12 226h14m-9 150h28m-23-466h14m-10 931h31m-29-841h15m-10 569h14m-7-569h14m-12-90h14m-11 466h14m-12 193h28m-24-569h14m-11 226h14m-12-395h14m-10-71h14m-11 616h14m-12-466h19m-17 931h19m-12-465h14m-12 193h14m-12-343h15m-12-123h17m-12-103h14m-10 226h19m-15 343h14m-11-193h44m-37 465h14m-10-272h24m-19-343h17m-15-226h14m-7 841h17m-10-272h19m-17-343h14m-9-316h14m-12 931h22m-18-615h14m-11 150h14m-10 193h17m-15-466h14m-7-103h14m-12 226h14m-13 615h33m-29-272h22m-20-659h14m-11 193h14m-12 123h14m-7 150h14m-10-466h14m-12 90h14m-13 569h17m-10-193h14m-12 465h15m-9-272h38m-35-569h14m-12 103h14m-12 123h17m-12 150h21m-17 465h14m-4-615h22m-20-123h14m-12-272h14m-7 738h14m-12 272h37m-35-738h15m-10 273h22m-20-150h14m-12 343h22m-8-343h14m-11 150h28m-26-376h14m-8 841h31m-28-272h24m-17-569h14m-12 103h14m-7 123h14m-12 150h21m-17-273h33m-32 466h19m-6-193h35m-28 193h14m-10-738h14m-13-71h14m-8 466h46m-45-316h28m-12 659h14m-10-193h38m-36-376h14m-7 569h14m-9 272h14m-10-841h14m-11 226h14m-12 343h24m-11 272h14m-12-465h28m-27-150h19m-17-123h14m-9 738h15m-11-1010h14m-10 738h44m-43-809h14m-12 466h22m-15-123h22m-16 738h14m-7-615h17m-15 150h14m-7 465h35m-34-841h14m-12 376h15m-6 193h14m-12-466h14m-12-103h14m-7 226h14m-12 150h24m-21-273h14m-12 466h42m-35 272h14m-12-738h14m-12 123h38m-33 150h14m7-616h14m-12 343h15m-11 273h22m-20 193h14m-13-343h28m-19 615h14m-12-272h24m-17-738h14m-8 1010h28m-27-465h14m-7-150h14m-12 343h14m-12-659h14m-10 466h44m-39 193h21m-19-343h24m-17 615h14m-9-738h19m-6 466h22m-20-569h14m-11-90h14m-12 193h14m-9 273h21m-17 465h37m-35-615h17m-5-395h14m-12 272h26m-17 273h14m-12 193h28m-23-343h14m-7 615h21m-17-738h15m-8 273h46m-43 193h15m-2-466h14m-11 123h14m-7-226h14m-12 841h15m-9-272h31m-26-659h14m-10 931h14m-13-465h22m-20-150h14m-12-123h24m-15 123h14m-11-226h14m-12 841h15m-11-465h21m-12-376h14m-13 841h14m-6-738h14m-11 466h17m-15-193h26m-23 465h30m-28-615h14m-8-226h14m-11-169h14m-5 738h26m-22-343h14m-9 615h14m-9-1010h14m-12 545h14m-10-273h17m-15 123h14m-6 343h26m-24-193h31m-15-273h14m-10 123h14m-12 343h44m-37 272h51m-49-465h14m-13-150h14m-8-123h14m-7 123h19m-16 150h35m-29-376h14m-7 103h14m-11-103h14m-6 103h14m-13 466h53m-44-659h14m-12 931h14m-9-465h14m-12-376h14m-10 226h17m-12 615h21m-19-465h14m-11-273h22m-7 273h14m-12 465h24m-23-615h14m-12 343h14m-12-659h14m-11 466h14m-10-150h14m-12 343h17m-15-466h14m-11 273h51m-47 465h14m-7-841h14m-9 226h30m-28 343h14m-5-466h14m-11 738h14m-10-272h14m-7-466h14m-10 738h40m-37-465h17m-11 193h42m-35-569h14m-11 226h14m-3 150h14m-5-150h22m-18-123h14m-13-193h14m-12 931h19m-15-272h14" stroke="#0072B2" stroke-width="14" stroke-opacity="0.8" fill="none"/>
<path transform="scale(0.1)" d="M503 1936h14m-12-28h14m-12 44h14m-12-18h14m-13-48h14m-12 156h14m-12-150h14m-12 123h14m-12-22h14m-13-11h14m-12-62h14m-12 22h14m-12 45h14m-13-42h14m-12-7h14m-12 119h14m-12-6h14m-12-81h14m-13 21h14m-12-51h14m-12 67h19m-17 2h14m-13-16h14m-10-100h14m-12 108h14m-12 22h14m-13-5h21m-19-91h14m-12 139h14m-12-36h14m-11-7h14m-12-100h14m-12 172h15m-12-16h14m-12 65h14m-12 76h14m-12-2h14m-12-51h14m-13-104h14m-12 66h14m-12-16h22m-20 83h14m-12-116h14m-13 31h14m-12 79h14m-10-32h14m-13-126h14m-12 82h14m-12 35h14m-12-77h14m-12 79h14m-13-17h14m-12-9h14m-12 14h14m-12 95h14m-13-38h14m-12-42h14m-12 136h14m-12-131h14m-12 7h14m-13 64h14m-12 13h14m-12-118h14m-12 98h14m-12 43h14m-13-33h14m-12-28h14m-12-13h14m-12 43h14m-13-107h14m-12 215h14m-12-172h14m-12 95h14m-12 72h14m-13-23h14m-12-100h14m-12 84h14m-12 2h14m-12-66h14m-13 3h14m-12 27h14m-12 65h14m-12-70h14m-13 31h14m-12 37h14m-12 10h14m-12-29h14m-12 12h14m-13 35h14m-12-62h14m-12-52h14m-12 51h14m-13 85h14m-12-86h14m-12 8h14m-12 23h17m-15-42h14m-11-5h14m-12-12h14m-12 55h14m-12 55h14m-13-86h14m-12 88h14m-12-9h14m-12-45h14m-13 9h14m-12 135h14m-12-70h14m-12-119h14m-12 87h14m-13 67h14m-12-143h14m-12 129h14m-12-86h14m-12 75h14m-13 21h14m-12-39h14m-12 137h14m-12-91h14m-13 13h14m-12 8h14m-12 42h14m-12-57h26m-24-4h14m-9-28h14m-12 16h14m-13 28h14m-10 70h14m-12-66h14m-12-66h14m-13 171h14m-12-63h14m-12-112h14m-12 131h14m-12 67h14m-13-105h14m-12 5h14m-12-4h14m-12 29h14m-13-37h14m-12 89h14m-12 56h14m-12-38h14m-12 32h14m-13-149h14m-12 17h14m-12 50h14m-12 39h14m-12 33h14m-13 2h14m-12-105h14m-12 41h14m-12 104h14m-13-33h14m-12 39h14m-12-24h14m-12-136h14m-12 107h14m-13-41h14m-12-49h14m-12 57h14m-12 41h14m-12 18h14m-13-49h14m-12-3h14m-12 126h14m-12-33h14m-13-18h14m-12 1h14m-12-40h14m-12-64h14m-12 19h14m-13 109h14m-12 11h14m-12-102h14m-12-6h14m-13 37h14m-12 59h14m-12 38h14m-12-18h14m-12-61h14m-13 71h14m-12-47h14m-12 59h14m-12-52h14m-12 87h14m-13-65h14m-12-64h14m-12 35h14m-12-12h14m-13 10h14m-12 5h14m-12-79h14m-12 136h14m-12-32h14m-13 105h14m-12-62h14m-12-19h14m-12-15h14m-12 133h14m-13-109h14m-12 29h14m-12 45h14m-12-116h14m-13-8h14m-12 22h17m-15-9h14m-10 67h14m-13 1h14m-12-52h14m-12 37h14m-12-64h14m-13 50h14m-12-8h14m-12 9h14m-12 77h14m-12-20h14m-13-36h14m-12-39h14m-12 89h14m-12-62h14m-12 29h14m-13 63h14m-12-65h14m-12-7h14m-12 130h14m-13-114h14m-12 71h14m-12-140h14m-12 109h14m-12-74h14m-13 135h14m-12-9h14m-12-22h14m-12 6h14m-12-87h14m-13 44h14m-12 111h14m-12-16h14m-12-102h14m-13 77h14m-12-16h14m-12-73h14m-12 55h14m-12 29h19m-18 68h14m-12-1h14m-10-16h14m-13 31h14m-12 22h14m-12-71h14m-12 107h14m-12-176h14m-13 44h14m-12-4h14m-12 42h14m-12 39h14m-12-53h14m-13-17h14m-12 8h14m-12-7h14m-12 17h14m-13 37h14m-12-12h14m-12-70h14m-12 51h14m-12 6h14m-13 26h14m-12-17h14m-12 8h14m-12 28h14m-12-29h14m-13 6h14m-12-21h14m-12 81h14m-12 72h14m-13-166h14m-12-49h14m-12 45h14m-12 52h14m-12-17h14m-13 84h14m-12-26h14m-12-32h14m-12-5h14m-13 93h14m-12-105h14m-12 14h14m-12 109h14m-12-44h14m-13 49h14m-12 8h14m-12-86h14m-12 43h14m-12-23h14m-13 51h14m-12-121h14m-12 158h14m-12-114h19m-18 64h21m-19 4h14m-10-53h14m-11 30h14m-12-22h14m-12 47h14m-12-21h14m-12 32h14m-13-76h14m-12 79h14m-12-41h14m-12-20h14m-13 49h14m-12 88h14m-12-129h14m-12 48h14m-12 7h14m-13 58h14m-12-146h14m-12 4h14m-12-12h14m-13 195h14m-12-76h14m-12 21h14m-12-49h14m-12-103h14m-13 106h14m-12 11h14m-12-16h14m-12-30h14m-12 75h14m-13 32h14m-12 12h14m-12-207h14m-12 167h14m-13-8h14m-12-19h14m-12 108h14m-12-95h14m-12-33h14m-13 115h14m-12-93h14m-12 86h14m-12-6h14m-12-31h14m-13-136h14m-12 93h19m-17-48h14m-12 152h14m-11-41h14m-12-18h21m-19-47h14m-12 100h14m-13 6h14m-10-63h14m-12 98h14m-13-32h14m-12-180h14m-12 158h14m-12 35h14m-12 26h22m-21-146h14m-12 122h15m-8-44h14m-12-12h14m-12 142h14m-12-149h14m-13-26h14m-12 115h14m-12-191h14m-12 139h14m-12 33h14m-13-88h14m-12 119h14m-12-35h14m-12-76h14m-12 97h14m-13-131h14m-12 103h14m-12-14h14m-12 73h14m-13-17h14m-12-117h14m-12-36h14m-12 211h14m-12-114h14m-13 46h14m-12 3h14m-12-55h14m-12 11h14m-13 117h14m-12-175h14m-12 134h14m-12 25h14m-12-74h14m-13 24h14m-12-31h21m-19 73h14m-12-52h14m-12 117h24m-21-140h14m-10-31h14m-13 11h14m-10 88h14m-12 44h19m-17-16h14m-13 56h14m-10-69h14m-12-52h14m-12 50h14m-13 23h14m-12-26h14m-12-64h14m-12 192h14m-13-54h14m-12-58h14m-12-8h14m-12-55h14m-12 162h14m-13-53h14m-12 91h14m-12 7h14m-12-20h14m-13-55h14m-12-34h17m-15 96h14m-10 9h14m-13-97h14m-12 81h14m-12 20h14m-12-115h14m-12 32h14m-13 134h14m-12-185h14m-12 130h14m-12-47h14m-13 28h14m-12 92h14m-12-111h14m-12 7h14m-12-85h14m-13 133h14m-12-223h14m-12 210h14m-12-115h14m-12 34h14m-13 97h14m-12-214h14m-12 147h14m-12-41h14m-13 20h14m-12-43h14m-12 37h14m-12 68h14m-12-25h14m-13 107h14m-12-138h14m-12 96h14m-12-136h14m-13 14h14m-12 60h14m-12-3h14m-12 72h14m-12 35h21m-20-117h14m-12 48h14m-12-106h14m-10 90h15m-12 29h14m-12 42h14m-12-78h14m-13 13h14m-12-3h14m-12-3h14m-12 89h14m-12-105h14m-13 98h14m-12-56h14m-12-176h14m-12 173h14m-12 88h14m-13-121h22m-20-25h14m-12 92h14m-12 10h14m-13-96h14m-10 125h14m-12 31h14m-12-4h21m-20-193h14m-12 86h14m-12-69h14m-11 180h14m-12-42h14m-12-32h14m-12 25h14m-12-88h14m-13 84h14m-12-48h14m-12 38h14m-12-18h14m-12-40h14m-13 27h14m-12 27h14m-12 94h14m-12-201h14m-13 129h14m-12 22h14m-12-19h14m-12 147h14m-12-113h14m-13-30h14m-12-46h14m-12 21h14m-12-11h14m-12 14h14m-13-21h14m-12 77h14m-12-100h17m-15 73h14m-11-11h14m-12 42h14m-12 56h15m-12-4h17m-15-166h14m-10 133h14m-13 29h14m-12-122h14m-12 148h14m-12-86h14m-12-11h14m-13 31h14m-12 44h14m-12 39h14m-12-43h14m-12 30h14m-13-94h14m-12-15h19m-17 58h14m-12-87h14m-11 60h14m-12 78h14m-12 31h14m-12-65h14m-13-121h14m-12 200h14m-12-49h14m-12-70h14m-12-74h14m-13 114h14m-12 103h14m-12-91h14m-12-112h14m-13 243h14m-12-160h14m-12-19h14m-12 79h14m-12 4h19m-18-179h14m-12 240h14m-10-236h14m-13 153h14m-12-33h14m-12 78h14m-12-9h14m-12-147h14m-13 98h14m-12-101h14m-12 123h14m-12 74h14m-12 66h14m-13-136h14m-12 5h14m-12 60h14m-12-111h14m-13 12h17m-15 8h14m-10 26h14m-12 14h14m-13 91h14m-12-172h14m-12 37h14m-12-4h14m-12 26h14m-13 58h14m-12-136h14m-12 109h26m-24 56h22m-21 15h17m-11-128h14m-9 198h14m-12-104h14m-12 71h14m-13-113h14m-12 123h14m-12 17h14m-12-213h14m-12 110h14m-13 143h14m-12-17h14m-12-71h14m-12-181h14m-12 191h14m-13 84h14m-12-168h14m-12 133h14m-12 41h14m-13-210h14m-12 65h14m-12-10h14m-12-46h14m-12 32h14m-13-58h14m-12 127h14m-12 82h14m-12-77h14m-12-26h14m-13-71h14m-12 52h14m-12 88h14m-12 121h14m-13-224h14m-12 29h14m-12 108h14m-12-169h14m-12-49h14m-13 299h14m-12-174h14m-12 105h14m-12-84h21m-20 21h14m-12-5h14m-12-241h14m-10 291h17m-16-71h14m-10-92h14m-12 108h17m-15-126h14m-11 120h14m-12 27h14m-12 183h14m-13-220h14m-12 21h14m-12 28h14m-12-118h19m-17 201h14m-13-78h21m-17-11h14m-12-103h14m-11 50h14m-12 161h14m-12-13h14m-12-117h14m-13-11h14m-12 22h14m-12-6h14m-12 28h14m-12 110h14m-13-200h14m-12 5h14m-12 26h14m-12 71h14m-13-29h14m-12-5h14m-12 63h14m-12 56h14m-12-234h14m-13 310h14m-12-201h14m-12 145h14m-12-187h14m-12 123h14m-13-18h14m-12 49h14m-12 40h14m-12-59h14m-13 39h14m-12-45h17m-15-24h14m-10-12h14m-13-142h14m-12 236h14m-12-45h14m-12-7h31m-29 79h14m-13-188h14m-12 50h14m-12 72h14m-11 13h14m-12 19h14m-12-26h14m-12 60h21m-18 157h14m-12-197h14m-10 27h14m-13-125h14m-12 59h14m-12 72h14m-12-40h15m-12-13h14m-12-89h14m-12 208h14m-12-247h14m-12 195h15m-12-134h14m-12 201h14m-12-183h14m-13 82h14m-12-33h14m-12 20h14m-12 27h14m-12 6h14m-13 43h22m-20-89h14m-12 33h14m-12-178h14m-12 227h14m-11-56h14m-12-122h14m-12 149h14m-13-97h14m-12 31h14m-12 13h14m-12 143h14m-12 33h14m-13-56h14m-12 108h14m-12-160h15m-11 83h14m-13-145h14m-12 114h14m-12 48h14m-12-236h14m-13 278h14m-12-128h14m-12-178h14m-12 231h14m-12-38h14m-13 46h21m-19-75h14m-12-35h14m-9 56h14m-12-36h21m-19 175h14m-12-52h14m-13-79h14m-10-37h14m-12 22h14m-12 77h15m-12-113h14m-12 105h14m-12 68h14m-13 9h14m-12-131h14m-12-141h14m-12 171h14m-12 158h14m-13-239h14m-12 36h14m-12-42h14m-12 340h14m-12-253h14m-13-7h14m-12-60h22m-20 22h14m-12 155h14m-13-244h14m-12 142h14m-10-102h14m-12 242h14m-13-38h14m-12-18h14m-12-151h14m-12-42h14m-13 117h14m-12-110h14m-12 56h14m-12-115h14m-12 101h14m-13 135h14m-12-8h17m-15 124h14m-10-79h14m-13-54h14m-12-81h14m-12 47h14m-12 167h14m-13 43h14m-12-272h14m-12 30h14m-12 110h14m-12 68h14m-13 21h14m-12-191h14m-12 75h14m-12-26h15m-12-102h21m-19 45h14m-12 129h14m-12-223h14m-11 282h14m-12-180h14m-12 67h15m-12-9h14m-12-174h14m-12 218h14m-12 132h14m-13-43h14m-12-98h14m-12-124h14m-12-51h14m-12 115h14m-13 190h14m-12-63h22m-20-58h14m-12-94h14m-12 16h14m-13 25h14m-10 208h14m-12-317h15m-12 84h14m-12 97h14m-12-80h21m-19 193h14m-13 23h14m-12-126h14m-10-64h14m-12 83h14m-13-48h14m-12 38h21m-19-65h14m-12-51h14m-13 69h14m-10 108h14m-12 104h14m-12-313h14m-13 301h14m-12-316h14m-12 90h28m-26 346h14m-13-253h17m-11 85h14m-12-44h14m-13 80h14m-10-257h14m-12 60h14m-12 161h14m-13 73h14m-12-260h19m-17-9h14m-12 174h14m-11-182h14m-12 71h14m-12 68h17m-15-105h14m-11 159h14m-12-141h14m-12 28h14m-12 136h14m-13-182h22m-20 148h14m-12-73h14m-12 62h14m-13-72h14m-10-56h31m-29 86h14m-12 31h14m-13-80h14m-12 160h14m-10-58h14m-13-207h14m-10 368h14m-10-309h14m-13 116h14m-12 127h14m-12-178h14m-12-73h14m-12 156h14m-13 11h14m-12-64h14m-12 135h14m-12-145h17m-16 183h21m-17-193h14m-12 277h14m-11-257h19m-17-68h21m-19 191h14m-10-244h14m-11 185h14m-12-33h14m-12 212h14m-13 94h14m-12-357h14m-12 107h14m-12-173h15m-12 76h14m-12 74h14m-12 150h17m-15-27h14m-11-156h14m-12-31h14m-12 53h14m-12 46h21m-20 255h14m-12-279h14m-12-33h14m-10 246h14m-13-298h14m-12 74h14m-12 193h14m-12-134h14m-13-162h14m-12 70h14m-12-61h14m-12 165h14m-12 25h14m-13-160h14m-12 148h14m-12 25h14m-12-86h14m-12 36h14m-13 150h17m-15-86h17m-12-76h21m-19-101h14m-12-10h14m-12 99h33m-30 158h14m-12-122h21m-19 169h14m-7-31h14m-12-231h14m-12 246h22m-19-115h14m-12 70h14m-12-120h14m-11-36h14m-12 302h14m-12-325h14m-12 35h14m-13-78h14m-12 54h14m-12-22h14m-12 251h14m-12-76h14m-13-238h14m-12 224h14m-12-66h14m-12 39h14m-12 101h14m-13-88h14m-12-27h14m-12 234h14m-12-259h14m-13 223h14m-12-17h14m-12-167h14m-12-52h14m-12 122h14m-13 80h14m-12-306h14m-12 129h14m-12-61h14m-13-46h14m-12 161h14m-12-139h14m-12 262h14m-12-347h14m-13 145h14m-12 52h14m-12-39h22m-20 25h14m-11-74h14m-12 101h21m-16 28h14m-10 218h14m-12-158h21m-19 119h14m-13-134h14m-12-16h26m-22-84h14m-12 181h19m-16 17h19m-12-98h21m-19-125h14m-12 140h14m-12-101h22m-19 117h14m-12-144h14m-12 177h14m-11-109h22m-20 198h17m-12-153h21m-17-73h14m-12-52h17m-12 189h21m-19 150h14m-12-98h14m-13-35h14m-10-50h21m-19-47h14m-12-29h15m-10 259h14m-12-61h14m-12-153h14m-13 81h14m-12 17h14m-12-143h14m-12 76h14m-13-61h14m-12 77h22m-20 34h14m-12-81h14m-12 257h14m-13-123h14m-10-103h14m-12-61h19m-18-15h14m-12 348h14m-10-169h30m-28-207h14m-11 104h14m-12-16h14m-12 288h14m-12-333h21m-18-29h14m-9 175h14m-12-202h14m-12 167h14m-12-66h14m-12-128h14m-13 113h22m-20-30h14m-12 183h14m-12-19h14m-12-87h21m-18-16h14m-12 162h14m-11-279h14m-12 167h14m-12 154h26m-24-82h14m-12 175h14m-13-114h14m-12 43h14m-10-64h21m-16-129h14m-10 109h14m-13 84h14m-12 46h14m-12-169h14m-12-53h14m-12-17h14m-13-33h17m-15 85h14m-10 263h14m-13-298h14m-12-194h14m-12 370h14m-12 150h14m-12 58h14m-13-292h19m-17 180h14m-12-322h14m-10 103h22m-21-376h14m-12 456h14m-12-61h14m-12 127h21m-16-280h14m-10 116h15m-12 237h14m-12-96h15m-12-123h14m-12 80h14m-12-21h14m-12 214h15m-12-254h14m-12-106h14m-12 210h14m-12-123h14m-12-36h14m-13-17h14m-12 222h14m-12-348h14m-12 398h14m-13-306h14m-12 482h14m-12-294h14m-12-42h14m-12-20h14m-13-173h14m-12 98h14m-12 337h14m-12-56h14m-12 86h14m-13-450h14m-12 138h22m-20 127h14m-12 127h14m-13-326h14m-12 176h14m-10-193h17m-12 52h14m-12 448h14m-12-284h14m-13-23h33m-31-226h14m-10 376h14m-12-273h14m-13 194h14m-12-48h14m-10-182h14m-12 137h14m-13 144h17m-11-76h14m-13-130h24m-22 356h14m-12-294h14m-10 172h14m-13-104h14m-10-89h14m-12 139h28m-26 112h14m-13-58h14m-10 90h14m-12-194h14m-13-205h14m-12 182h14m-10 48h17m-15 169h14m-11-194h14m-12 132h14m-12-221h14m-13 193h22m-18-127h15m-11 155h14m-11-82h14m-12-50h31m-29 226h14m-12-294h14m-13 93h14m-12-48h17m-12-23h15m-11-64h14m-10 135h14m-13-93h14m-12-101h14m-12 363h14m-12-32h14m-12-30h14m-13 129h30m-28-350h14m-12 193h14m-12-254h14m-11 282h14m-10-132h14m-12 297h14m-11-320h14m-12 249h14m-12-150h14m-13-122h22m-20-104h14m-12 150h14m-12-23h22m-20 185h19m-16 258h14m-8-316h14m-13-79h14m-12 169h21m-19-324h14m-12 427h14m-13-297h17m-11-23h14m-12-66h14m-13 21h21m-19 230h14m-12-86h15m-10 28h28m-26 193h14m-12-103h14m-11-217h22m-20 249h14m-12-315h14m-12 386h14m-9-272h14m-12 169h14m-12-262h15m-12 172h14m-12-150h14m-12 178h14m-12 288h14m-13-226h14m-12-283h14m-12 251h14m-12 466h14m-12-578h15m-12-180h14m-12 62h14m-12 403h14m-13-259h14m-12 28h14m-12-54h14m-12-73h14m-12 155h19m-18 165h14m-12-135h14m-10 32h24m-22-118h14m-11 150h14m-12-315h14m-12 251h21m-18-58h19m-17-150h14m-9 422h19m-17-376h14m-12 25h14m-10 137h14m-13 173h19m-17-231h14m-12-104h21m-18 25h14m-12 272h14m-10-343h14m-12 150h21m-20 272h14m-12-351h14m-12 169h14m-11-144h14m-12 112h26m-24-162h19m-17 376h14m-12-399h14m-9 217h14m-10-90h14m-13-127h14m-12 284h14m-12-185h14m-12 150h22m-21-94h14m-10 62h21m-16 67h17m-11-99h19m-17-58h14m-13-79h14m-10 201h14m-12 35h14m-13 74h14m-12 85h24m-22-420h14m-12 50h14m-11 326h22m-20 140h14m-10-290h14m-13 35h14m-10-67h14m-12 648h14m-12-792h14m-13 176h14m-12 71h14m-12-36h19m-17-236h14m-12 491h14m-11-181h17m-15-141h19m-16 272h14m-10-205h14m-12 36h14m-12-221h14m-13 300h14m-12 140h14m-12 112h22m-20-402h14m-12 240h14m-13-205h14m-12 36h31m-24-320h14m-10 127h14m-12 316h14m-13-288h14m-8 129h22m-21 367h14m-12-628h14m-12 842h14m-12-466h14m-11-79h21m-19-165h14m-10 203h19m-16 85h14m-10-194h14m-12 150h17m-16-300h14m-10 185h24m-22 309h14m-12-570h14m-11 420h19m-17-530h14m-9 407h14m-12 38h14m-12 41h14m-12-272h14m-13 466h14m-12-570h14m-12 420h14m-12-226h26m-24 141h14m-13 181h14m-12-140h14m-10-214h14m-13 408h14m-10-150h15m-11-316h14m-13 272h28m-26 90h14m-12 162h14m-12-293h14m-11 428h14m-12-502h35m-30 159h15m-9 150h19m-12 122h14m-12-357h14m-11-38h14m-12-135h14m-12 304h14m-12-240h14m-13 402h14m-12 64h17m-15-176h14m-10 416h14m-13-597h14m-12-38h14m-12 169h28m-26-205h14m-13-99h14m-10 354h14m-12-96h14m-12-44h22m-21-79h14m-10-165h22m-20 384h14m-11-290h14m-12 466h14m-10-272h19m-18-85h15m-9 428h22m-20-601h14m-13 466h35m-33-434h14m-8 182h26m-16 90h21m-15-304h14m-11 354h21m-17-140h14m-13-41h14m-10-38h14m-12 635h19m-17-512h14m-13-316h14m-10 524h14m-12-293h19m-17 131h22m-21-240h14m-10 35h14m-12 367h22m-19-58h14m-12-54h14m-12-322h14m-11 498h14m-12-226h24m-20-205h22m-20 581h14m-13-507h14m-7 428h14m-12 169h14m-12-362h14m-12-235h14m-12 181h14m-13-140h14m-12-150h14m-12 240h37m-35-205h14m-11 159h14m-12 96h15m-11 112h17m-12 214h14m-12-616h14m-11 537h17m-11-135h31m-30-252h15m-11 316h14m-10-357h14m-11 235h14m-12 193h22m-20-71h17m-12-357h30m-26 235h21m-20-150h14m-10 422h14m-10-214h28m-27-367h14m-8 431h14m-13 71h14m-12-297h21m-19-90h14m-10 140h37m-34 247h14m-12 395h14m-9-588h22m-18-104h14m-11 297h14m-10-343h14m-10 272h14m-13-357h14m-12 428h14m-12 738h14m-12-569h14m-12-635h14m-13 169h14m-12-131h14m-12 235h28m-26 58h21m-20-208h14m-10 96h24m-20 176h14m-13 71h14m-7-135h14m-12-367h14m-12 774h14m-12-569h35m-33-46h14m-13 96h14m-10 112h14m-12 214h14m-12-272h14m-13 588h14m-10-782h14m-12 140h14m-13 112h14m-10 304h26m-24-90h14m-12-150h14m-13 71h14m-12 395h14m-10-692h22m-19 226h21m-19-176h15m-8 247h14m-12-343h14m-12 150h30m-27 272h17m-15-466h14m-9 252h14m-12 873h14m-8-738h17m-16 272h14m-10-659h14m-12 556h14m-12-416h14m-13 112h14m-12 530h19m-17-823h14m-12 85h14m-11-288h14m-12 384h14m-12 112h21m-19-58h14m-13-150h14m-12-44h14m-10 90h14m-12 466h46m-45 376h14m-12-466h14m-12-272h22m-20-54h19m-10 176h14m-9 809h14m-12-659h14m-13-79h17m-11 1010h14m-11-1307h22m-20 226h15m-11-176h14m-12 247h14m-11 79h14m-12 90h14m-12 226h17m-16-738h14m-10 208h14m-12 135h14m-12-297h14m-13-90h14m-12 556h14m-12-240h42m-40-176h14m-12 247h14m-13-135h14m-12-58h14m-10-235h14m-11 700h14m-12 123h19m-17-316h14m-9 90h24m-22 103h14m-9-569h14m-12 297h21m-16-135h14m-10-162h21m-19 104h14m-12 931h14m-13-1081h14m-10 422h15m-12-272h14m-12 362h14m-12-169h22m-20 545h14m-12-680h28m-27-162h14m-8 466h17m-15-240h24m-16 466h21m-17-123h14m-12-193h19m-16 466h17m-11-273h21m-18-272h24m-18-297h14m-13 692h14m-8-782h14m-12 194h14m-13 362h14m-12-90h22m-20 466h14m-12-680h14m-13 873h14m-12-738h14m-10-71h30m-28 343h31m-30 273h21m-12-545h22m-20-193h14m-5 738h17m-15-466h14m-11-376h15m-11 569h30m-28-272h15m-12 79h14m-10-214h15m-10-293h14m-10 823h24m-22-395h14m-13 169h15m-11 841h14m-9-1203h14m-12 272h14m-12-150h15m-12 1081h14m-12 466h14m-12-1081h14m-12-692h14m-12 466h14m-13-90h26m-24-150h21m-17 466h15m-6-226h17m-16-169h14m-10 272h14m-12-407h15m-12 214h33m-31-79h14m-12-343h14m-12 738h14m-9-226h14m-12 103h14m-11 123h14m-12-466h14m-10-176h14m-13 519h14m-12-272h14m-12 169h35m-30 226h15m-11 150h14m-10-680h14m-13 214h14m-8 931h14m-11-1145h22m-20 214h47m-45 466h22m-19-273h14m-5 123h21m-19-226h14m-7 103h14m-10-343h17m-12 466h22m-18-123h42m-39-103h14m-8 841h14m-13-1010h22m-14 79h21m-16-272h14m-11-54h14m-10 416h14m-12-240h14m-12 71h19m-18 545h14m-12 931h14m-10-1397h14m-12 659h14m-13-466h22m-20-103h14m-12-362h14m-11 122h17m-11 466h22m-20 150h14m-13-545h17m-15 79h19m-12 193h15m-11-103h14m-12-240h14m-13 466h24m-20 343h31m-22-809h14m-12 240h14m-9 376h33m-29-545h37m-34 1010h15m-8-1081h31m-29 1547h14m-12-1611h14m-7 530h14m-10 343h14m-13-873h14m-10 214h22m-17 316h14m-8-466h14m-13 240h14m-12 569h14m-12-193h14m-12-273h14m-12 123h21m-20-316h15m-11-150h14m-11 809h19m-17-569h37m-30-240h14m-12 466h14m-10-395h15m-8 272h15m-10 273h21m-19 193h14m-12-738h14m-12 395h30m-25-123h14m-11-103h22m-20-169h14m-12 79h14m-12 466h21m-16-616h14m-10 1081h14m-12-931h14m-13 316h19m-17-395h14m-12 1476h14m-11-1307h28m-26 841h14m-10-1010h14m-12 738h14m-9-466h14m-10-193h14m-13 316h14m-12 150h15m-11-273h14m-13-272h14m-12 738h24m-20-985h14m-12 792h17m-10-376h14m-13 226h14m-12-395h14m-12 272h14m-12-465h14m-12 931h14m-13-659h21m-19 931h14m-12-1010h14m-12 169h22m-19 569h14m-12-466h15m-10 738h24m-20-1081h14m-12 466h14m-12-123h14m-13 273h17m-11-376h21m-19 226h14m-13 343h14m-8-466h14m-13-343h14m-12 150h21m-19 1397h14m-12-1081h24m-22 343h14m-11-466h14m-10 273h14m-11 193h17m-11-659h17m-12 316h21m-19 150h14m-12 193h14m-13-466h14m-8 738h15m-12-931h14m-12 466h55m-53 193h14m-12-569h14m-13 103h14m-10 1204h14m-12-1547h14m-12 466h21m-11-466h14m-10 1081h14m-11 466h14m-12-1204h17m-15 123h14m-5-316h14m-12 90h14m-13 226h14m-12-123h14m-12 466h17m-12-659h14m-12 931h14m-12-1081h14m-12 466h22m-19-395h14m-12 1476h14m-12-1307h14m-11 569h22m-18 272h22m-18-841h22m-19 376h53m-46-150h14m-7 615h22m-20-738h14m-12 123h14m-11 1081h14m-6-1204h14m-13 466h14m-12-569h14m-5 226h28m-26-226h15m-12 569h14m-12 738h14m-10-1397h14m-9 466h15m-11 465h14m-12 466h14m-13-1397h19m-17 316h15m-8 150h14m-12-273h26m-24 466h21m-18-659h14m-12 931h14m-7-1081h14m-12 240h14m-12 226h31m-29 615h19m-12-738h14m-11-103h14m-12 569h14m-9 272h17m-15 466h21m-17-738h15m-10-343h14m-10 150h14m-12-273h22m-19 466h15m-11 272h14m-11-615h17m-11 150h14m-13 465h17m-15-272h21m-17-466h14m-13-193h17m-11 466h22m-20 465h14m-11-615h14m-12 343h26m-19-466h14m-7 1204h14m-12-1307h14m-12 841h22m-20-465h14m-13-273h24m-22 123h47m-41 343h31m-23 738h19m-17-931h22m-6-376h14m-10 569h14m-12 272h19m-12-1010h14m-12 395h14m-13 343h15m-11-466h14m-12 738h14m-13-465h31m-29-150h31m-20 615h14m-12-272h24m-15 272h24m-21-738h14m-10 273h14m-12-376h14m-11 569h30m-26 738h14m-9-1204h14m-10 738h24m-19-615h22m-20 1081h26m-24-1307h14m-11 103h14m-5 738h14m-12-272h14m-12-193h19m-18-376h30m-24-240h14m-12 809h37m-34-343h21m-10 1081h33m-31-466h14m-11-738h21m-12-193h14m-10 466h22m-19 465h14m-10-272h37m-34-738h14m-12 395h14m-9 1081h14m-12-1204h14m-12-103h14m-10 376h28m-27 465h19m-11-738h17m-9 466h15m-11-343h14m-12 1081h15m-12-466h17m-11-465h14m-13 193h26m-24-738h14m-12 272h30m-19 273h17m-10 931h17m-10-466h44m-42-465h15m-10 931h19m-17-1204h14m-12 123h22m-17 150h14m-3 193h14m-12 738h14m-11-931h17m-12-466h14m-12 316h22m-20 343h33m-29 738h14m-13-466h14m-5-931h14m-12 193h14m-12 273h56m-53 931h17m-11-1081h14m-7 343h14m-12-466h19m-16 738h17m-10 466h15m-11-738h21m-17-343h14m-13-226h14m-10-90h14m-11 931h17m-15 466h26m-22-738h14m-12-659h14m-13 466h14m-6 465h24m-23-272h14m-10-343h14m-5 150h19m-17 193h28m-27-343h17m-11 615h14m-11 466h14m-12-1204h24m-17 123h14m-12 615h21m-17 466h14m-13-738h96m-90-193h14m-11-150h14m-10 615h80m-71-465h14m-12-466h14m3 1397h19m-6-1081h14m-12-123h14m-7 1204h14m-11-1307h14m-3 1307h14m-10-1081h19m-16-466h14m-10 616h24m-21 465h19m-15-272h31m-26 738h14m-8-1081h35m-34 615h42m-38-841h14m-9 1307h14m-7-738h14m-5-193h15m-9 193h19m-17-343h14m-13-123h14m-10 273h15m-10 931h26m-22-738h30m-23 272h33m-28-465h19m-12 931h19m-17-1397h14m-7 193h14m-12 273h38m-36 193h19m-7 272h26m-24 466h14m-12-738h15m-3 0h19m-15 738h14m-9-1081h14m-12 615h14m-12-465h26m-24 931h21m-16-1204h14m-7 466h14m-12-343h14m-12-123h14m-12 1204h26m-23-466h17m-12-841h14m-12 103h14m-10 273h14m-12 193h26m-25 272h17m-11-738h14m-12 273h15m-10-466h14m-12 931h22m-21-615h14m-8 150h14m-11 931h14m-12-1307h14m-9 569h21m-19-659h14m-10 1397h31m-28-931h15m-11 465h42m-35-272h15m-2 0h28m-18-343h14m-5 1081h22m-20-466h26m-21-738h14m-8 466h37m-30-466h14m-12 1204h21m-12-931h14m-11 465h19m-12 466h21m-19-931h21m-12 465h15m-11-841h14m-13 569h17m-11 738h14m-13-931h30m-28-150h14m-12 615h21m-17-272h14m-9 738h21m-12-738h21m-19 272h14m-13-615h19m-11 1081h21m-20-466h21m-19-738h14m-7 466h21m-17-343h14m-12 150h14m-11 465h49m-40 466h22m-15-738h14m-7-466h14m-5 1204h15m-9-1204h14m-13 466h22m-20-193h14m-10 931h47m-45-466h24m-10-272h28m-19-193h28m-26 465h65m-55-738h19m-12-103h14m-12 226h14m-9 150h14m-12 193h14m-10 738h17m-12-1081h14m-12 343h15m-6-466h22m-20 123h14m-13 1081h17m-9-738h26m-23-193h14m-8 465h28m-20 466h38m-29-738h15m-11-466h14m-5 738h14m-12-272h21m-18-343h14m-12-123h14m-10 273h14m-13 465h31m-24-272h65m-57-193h21m-16 931h49m-38-466h14m0 0h14m-7-615h33m-28 150h22m-11 465h19m-12-272h22m-18 738h15m-8-1204h14m-12 738h24m-17-465h14m-9 931h14m-10-738h17m-15-343h22m-19 615h17m-10 466h33m-29-931h22m-19 193h14m-6-343h14m-13 615h15m-9-272h28m-23-193h14m-12 465h28m-12 466h19m-16-1081h14m-10 343h14m-9-193h28m-26 465h49m-47 466h22m-19-738h14m-12-466h14m-5 466h14m-8 738h24m-23-1204h14m-7 466h21m-12-193h14m-12-150h14m-12 1081h19m-12-738h19m-15-343h30m-27 615h58m-51 466h14m-10-931h14m-9 193h14m-7 738h21m-19-1397h14m-3 466h14m-11 193h21m-19 738h21m-12-931h15m-11-150h19m-17 615h31m-24 466h33m-32-738h14m-3-193h31m-27 193h33m-17 272h19m-12-931h14m-12 1397h19m-16-931h17m-6-150h14m-9-123h14m-12 738h22m-17 466h14m-12-738h14m-10-343h14m-11-316h14m-12 466h24m-20 193h14m-13 738h22m-18-1081h14m-5 343h17m-15 272h53m-50-465h22m-6 931h30m-26-1081h21m-7 343h19m-12-193h14m-8 931h30m-27-738h14m-10 272h56m-54-738h14m-11 273h30m-19 193h14m-12-343h14m-5 343h15m-12 738h19m-17-1204h22m-15 466h14m-9-343h14m-12 1081h14m-10-931h15m-12 465h15m-9-272h17m-12-193h19m-17 465h38m-36-615h22m-17 343h14m-3-193h14m-13 193h21m-17-343h19m-12 1081h14m-12-931h19m-12 465h15m-11-272h28m-21 738h22m-11-931h14m-13 465h28m-19-465h14m-5 931h56m-52-738h28m-25 272h37m-33-465h14m9 193h14m-10-193h21m-18 465h14m-8-272h15m-12-343h14m-12 615h26m-24 466h15m-10-738h31m-15 272h28m-17 466h15m-10-931h17m-15 193h17m-12 738h24m-20-466h14m-9-272h37m-33-343h19m-17 615h26m-12 466h53m-44-931h21m-16 465h49m-22-465h14m-9 193h51m-45-193h14m-9 931h28m-23-931h14m-8 465h22m-15-615h19m-7 615h14m-12 466h17m-12-738h24m-17 272h24m-16-738h14m-13 1204h44m-40-1081h15m-6 615h46m-39-272h14m4 0h24m-12 738h63m-56-466h22m-20-465h31m-27-150h14m-5 343h22m-6-193h14m-12-150h14m-13 615h76m-70-738h14m-4 466h14m-6 738h35m-27-931h22m-11 193h14m-3-343h14m-12 1081h14m-9-931h35m-31 193h14m-11 738h33m-17-1081h14m-12 343h14m-9 272h28m-22-465h14m-13 931h40m-31-931h14m-8 193h46m-43 272h14m-1 0h49m-47-465h14m-2 0h14m-9 931h14m-8-931h14m-11-150h22m-16 1081h65m-58-931h14m-11 193h24m-22 272h14m-1-465h14m-7 193h14m-12 272h19m-12-465h14m-5 193h24m-21-193h14m-10 465h53m-48 466h28m-21-1204h14m-10 273h14m-12 193h26m-12-343h19m-10 1081h35m-25-466h14m-12-272h14m-7-193h17m-11 193h14m-12 272h22" stroke="#009E73" stroke-width="14" stroke-opacity="0.8" fill="none"/>
<path d="M51.0 191.0 L53.1 194.8 L55.3 198.6 L57.4 202.3 L59.6 206.0 L61.7 209.6 L63.9 213.2 L66.0 216.8 L68.2 220.3 L70.3 223.8 L72.5 227.2 L74.6 230.6 L76.8 234.0 L78.9 237.3 L81.1 240.6 L83.2 243.8 L85.4 247.0 L87.5 250.1 L89.6 253.3 L91.8 256.3 L93.9 259.4 L96.1 262.3 L98.2 265.3 L100.4 268.2 L102.5 271.1 L104.7 273.9 L106.8 276.7 L109.0 279.5 L111.1 282.2 L113.3 284.9 L115.4 287.5 L117.6 290.2 L119.7 292.8 L121.9 295.3 L124.0 297.8 L126.2 300.3 L128.3 302.8 L130.4 305.2 L132.6 307.6 L134.7 310.0 L136.9 312.4 L139.0 314.7 L141.2 317.0 L143.3 319.2 L145.5 321.5 L147.6 323.7 L149.8 325.9 L151.9 328.1 L154.1 330.3 L156.2 332.4 L158.4 334.5 L160.5 336.6 L162.7 338.7 L164.8 340.8 L166.9 342.8 L169.1 344.8 L171.2 346.9 L173.4 348.9 L175.5 350.8 L177.7 352.8 L179.8 354.8 L182.0 356.7 L184.1 358.6 L186.3 360.6 L188.4 362.5 L190.6 364.4 L192.7 366.3 L194.9 368.1 L197.0 370.0 L199.2 371.9 L201.3 373.7 L203.4 375.5 L205.6 377.4 L207.7 379.2 L209.9 381.0 L212.0 382.8 L214.2 384.6 L216.3 386.4 L218.5 388.2 L220.6 390.0 L222.8 391.7 L224.9 393.5 L227.1 395.3 L229.2 397.0 L231.4 398.8 L233.5 400.5 L235.7 402.2 L237.8 404.0 L239.9 405.7 L242.1 407.4 L244.2 409.2 L246.4 410.9 L248.5 412.6 L250.7 414.3 L252.8 416.0 L255.0 417.7 L257.1 419.4 L259.3 421.1 L261.4 422.8 L263.6 424.5 L265.7 426.1 L267.9 427.8 L270.0 429.5 L272.2 431.2 L274.3 432.8 L276.5 434.5 L278.6 436.2 L280.7 437.8 L282.9 439.5 L285.0 441.1 L287.2 442.8 L289.3 444.4 L291.5 446.1 L293.6 447.7 L295.8 449.4 L297.9 451.0 L300.1 452.7 L302.2 454.3 L304.4 455.9 L306.5 457.5 L308.7 459.2 L310.8 460.8 L313.0 462.4 L315.1 464.0 L317.2 465.6 L319.4 467.2 L321.5 468.9 L323.7 470.5 L325.8 472.1 L328.0 473.7 L330.1 475.3 L332.3 476.8 L334.4 478.4 L336.6 480.0 L338.7 481.6 L340.9 483.2 L343.0 484.8 L345.2 486.3 L347.3 487.9 L349.5 489.5 L351.6 491.0 L353.7 492.6 L355.9 494.2 L358.0 495.7 L360.2 497.3 L362.3 498.8 L364.5 500.3 L366.6 501.9 L368.8 503.4 L370.9 504.9 L373.1 506.5 L375.2 508.0 L377.4 509.5 L379.5 511.0 L381.7 512.5 L383.8 514.0 L386.0 515.5 L388.1 517.0 L390.3 518.5 L392.4 520.0 L394.5 521.5 L396.7 523.0 L398.8 524.5 L401.0 525.9 L403.1 527.4 L405.3 528.8 L407.4 530.3 L409.6 531.7 L411.7 533.2 L413.9 534.6 L416.0 536.1 L418.2 537.5 L420.3 538.9 L422.5 540.3 L424.6 541.7 L426.8 543.1 L428.9 544.5 L431.0 545.9 L433.2 547.3 L435.3 548.7 L437.5 550.0 L439.6 551.4 L441.8 552.7 L443.9 554.1 L446.1 555.4 L448.2 556.8 L450.4 558.1 L452.5 559.4 L454.7 560.7 L456.8 562.0 L459.0 563.3 L461.1 564.6 L463.3 565.9 L465.4 567.2 L467.5 568.4 L469.7 569.7 L471.8 570.9 L474.0 572.2 L476.1 573.4 L478.3 574.6 L480.4 575.9 L482.6 577.1 L484.7 578.3 L486.9 579.5 L489.0 580.6 L491.2 581.8 L493.3 583.0 L495.5 584.1 L497.6 585.3 L499.8 586.4 L501.9 587.5 L504.1 588.6 L506.2 589.7 L508.3 590.8 L510.5 591.9 L512.6 593.0 L514.8 594.1 L516.9 595.1 L519.1 596.2 L521.2 597.2 L523.4 598.2 L525.5 599.2 L527.7 600.2 L529.8 601.2 L532.0 602.2 L534.1 603.2 L536.3 604.2 L538.4 605.1 L540.6 606.1 L542.7 607.0 L544.8 607.9 L547.0 608.8 L549.1 609.7 L551.3 610.6 L553.4 611.5 L555.6 612.4 L557.7 613.2 L559.9 614.1 L562.0 614.9 L564.2 615.7 L566.3 616.5 L568.5 617.4 L570.6 618.1 L572.8 618.9 L574.9 619.7 L577.1 620.5 L579.2 621.2 L581.3 622.0 L583.5 622.7 L585.6 623.4 L587.8 624.1 L589.9 624.8 L592.1 625.5 L594.2 626.2 L596.4 626.8 L598.5 627.5 L600.7 628.2 L602.8 628.8 L605.0 629.4 L607.1 630.0 L609.3 630.6 L611.4 631.2 L613.6 631.8 L615.7 632.4 L617.8 633.0 L620.0 633.5 L622.1 634.1 L624.3 634.6 L626.4 635.2 L628.6 635.7 L630.7 636.2 L632.9 636.7 L635.0 637.2 L637.2 637.7 L639.3 638.2 L641.5 638.6 L643.6 639.1 L645.8 639.6 L647.9 640.0 L650.1 640.4 L652.2 640.9 L654.4 641.3 L656.5 641.7 L658.6 642.1 L660.8 642.5 L662.9 642.9 L665.1 643.3 L667.2 643.6 L669.4 644.0 L671.5 644.4 L673.7 644.7 L675.8 645.1 L678.0 645.4 L680.1 645.7 L682.3 646.1 L684.4 646.4 L686.6 646.7 L688.7 647.0 L690.9 647.3 L693.0 647.6" fill="none" stroke="#D55E00" stroke-width="2.6" stroke-linejoin="round"/>
<path d="M51.0 191.1 L53.1 195.6 L55.3 200.0 L57.4 204.3 L59.6 208.6 L61.7 212.8 L63.9 217.0 L66.0 221.1 L68.2 225.2 L70.3 229.2 L72.5 233.1 L74.6 237.0 L76.8 240.8 L78.9 244.6 L81.1 248.3 L83.2 251.9 L85.4 255.5 L87.5 259.1 L89.6 262.5 L91.8 265.9 L93.9 269.3 L96.1 272.6 L98.2 275.8 L100.4 279.0 L102.5 282.1 L104.7 285.2 L106.8 288.2 L109.0 291.2 L111.1 294.1 L113.3 297.0 L115.4 299.9 L117.6 302.7 L119.7 305.4 L121.9 308.1 L124.0 310.8 L126.2 313.4 L128.3 316.0 L130.4 318.5 L132.6 321.0 L134.7 323.5 L136.9 326.0 L139.0 328.4 L141.2 330.8 L143.3 333.1 L145.5 335.4 L147.6 337.7 L149.8 340.0 L151.9 342.3 L154.1 344.5 L156.2 346.7 L158.4 348.9 L160.5 351.0 L162.7 353.2 L164.8 355.3 L166.9 357.4 L169.1 359.5 L171.2 361.6 L173.4 363.6 L175.5 365.7 L177.7 367.7 L179.8 369.7 L182.0 371.7 L184.1 373.7 L186.3 375.7 L188.4 377.7 L190.6 379.6 L192.7 381.6 L194.9 383.5 L197.0 385.5 L199.2 387.4 L201.3 389.3 L203.4 391.2 L205.6 393.1 L207.7 395.0 L209.9 396.9 L212.0 398.8 L214.2 400.7 L216.3 402.5 L218.5 404.4 L220.6 406.2 L222.8 408.1 L224.9 409.9 L227.1 411.8 L229.2 413.6 L231.4 415.5 L233.5 417.3 L235.7 419.1 L237.8 420.9 L239.9 422.7 L242.1 424.6 L244.2 426.4 L246.4 428.2 L248.5 430.0 L250.7 431.8 L252.8 433.6 L255.0 435.4 L257.1 437.1 L259.3 438.9 L261.4 440.7 L263.6 442.5 L265.7 444.3 L267.9 446.0 L270.0 447.8 L272.2 449.6 L274.3 451.3 L276.5 453.1 L278.6 454.9 L280.7 456.6 L282.9 458.4 L285.0 460.1 L287.2 461.9 L289.3 463.6 L291.5 465.3 L293.6 467.1 L295.8 468.8 L297.9 470.5 L300.1 472.3 L302.2 474.0 L304.4 475.7 L306.5 477.4 L308.7 479.1 L310.8 480.9 L313.0 482.6 L315.1 484.3 L317.2 486.0 L319.4 487.7 L321.5 489.3 L323.7 491.0 L325.8 492.7 L328.0 494.4 L330.1 496.1 L332.3 497.8 L334.4 499.4 L336.6 501.1 L338.7 502.7 L340.9 504.4 L343.0 506.0 L345.2 507.7 L347.3 509.3 L349.5 511.0 L351.6 512.6 L353.7 514.2 L355.9 515.9 L358.0 517.5 L360.2 519.1 L362.3 520.7 L364.5 522.3 L366.6 523.9 L368.8 525.5 L370.9 527.1 L373.1 528.6 L375.2 530.2 L377.4 531.8 L379.5 533.3 L381.7 534.9 L383.8 536.4 L386.0 538.0 L388.1 539.5 L390.3 541.0 L392.4 542.6 L394.5 544.1 L396.7 545.6 L398.8 547.1 L401.0 548.6 L403.1 550.1 L405.3 551.5 L407.4 553.0 L409.6 554.5 L411.7 555.9 L413.9 557.4 L416.0 558.8 L418.2 560.2 L420.3 561.6 L422.5 563.1 L424.6 564.5 L426.8 565.8 L428.9 567.2 L431.0 568.6 L433.2 570.0 L435.3 571.3 L437.5 572.7 L439.6 574.0 L441.8 575.3 L443.9 576.7 L446.1 578.0 L448.2 579.3 L450.4 580.5 L452.5 581.8 L454.7 583.1 L456.8 584.3 L459.0 585.6 L461.1 586.8 L463.3 588.0 L465.4 589.3 L467.5 590.5 L469.7 591.6 L471.8 592.8 L474.0 594.0 L476.1 595.1 L478.3 596.3 L480.4 597.4 L482.6 598.5 L484.7 599.6 L486.9 600.7 L489.0 601.8 L491.2 602.9 L493.3 603.9 L495.5 605.0 L497.6 606.0 L499.8 607.1 L501.9 608.1 L504.1 609.1 L506.2 610.1 L508.3 611.0 L510.5 612.0 L512.6 612.9 L514.8 613.9 L516.9 614.8 L519.1 615.7 L521.2 616.6 L523.4 617.5 L525.5 618.4 L527.7 619.2 L529.8 620.1 L532.0 620.9 L534.1 621.7 L536.3 622.6 L538.4 623.4 L540.6 624.2 L542.7 624.9 L544.8 625.7 L547.0 626.4 L549.1 627.2 L551.3 627.9 L553.4 628.6 L555.6 629.3 L557.7 630.0 L559.9 630.7 L562.0 631.4 L564.2 632.0 L566.3 632.7 L568.5 633.3 L570.6 633.9 L572.8 634.6 L574.9 635.2 L577.1 635.8 L579.2 636.3 L581.3 636.9 L583.5 637.5 L585.6 638.0 L587.8 638.5 L589.9 639.1 L592.1 639.6 L594.2 640.1 L596.4 640.6 L598.5 641.1 L600.7 641.6 L602.8 642.0 L605.0 642.5 L607.1 642.9 L609.3 643.4 L611.4 643.8 L613.6 644.2 L615.7 644.7 L617.8 645.1 L620.0 645.5 L622.1 645.8 L624.3 646.2 L626.4 646.6 L628.6 647.0 L630.7 647.3 L632.9 647.7 L635.0 648.0 L637.2 648.3 L639.3 648.7 L641.5 649.0 L643.6 649.3 L645.8 649.6 L647.9 649.9 L650.1 650.2 L652.2 650.5 L654.4 650.8 L656.5 651.0 L658.6 651.3 L660.8 651.6 L662.9 651.8 L665.1 652.1 L667.2 652.3 L669.4 652.5 L671.5 652.8 L673.7 653.0 L675.8 653.2 L678.0 653.4 L680.1 653.6 L682.3 653.8 L684.4 654.1 L686.6 654.2 L688.7 654.4 L690.9 654.6 L693.0 654.8" fill="none" stroke="#0072B2" stroke-width="2.6" stroke-linejoin="round"/>
<path d="M51.0 191.7 L53.1 196.9 L55.3 202.1 L57.4 207.2 L59.6 212.3 L61.7 217.2 L63.9 222.1 L66.0 226.9 L68.2 231.6 L70.3 236.2 L72.5 240.7 L74.6 245.2 L76.8 249.5 L78.9 253.8 L81.1 258.0 L83.2 262.1 L85.4 266.1 L87.5 270.0 L89.6 273.9 L91.8 277.6 L93.9 281.3 L96.1 284.9 L98.2 288.4 L100.4 291.9 L102.5 295.3 L104.7 298.6 L106.8 301.8 L109.0 305.0 L111.1 308.1 L113.3 311.2 L115.4 314.2 L117.6 317.1 L119.7 320.0 L121.9 322.8 L124.0 325.6 L126.2 328.3 L128.3 331.0 L130.4 333.7 L132.6 336.3 L134.7 338.9 L136.9 341.4 L139.0 343.9 L141.2 346.4 L143.3 348.8 L145.5 351.2 L147.6 353.6 L149.8 356.0 L151.9 358.3 L154.1 360.6 L156.2 362.9 L158.4 365.1 L160.5 367.4 L162.7 369.6 L164.8 371.8 L166.9 374.0 L169.1 376.2 L171.2 378.4 L173.4 380.5 L175.5 382.7 L177.7 384.8 L179.8 386.9 L182.0 389.0 L184.1 391.1 L186.3 393.2 L188.4 395.3 L190.6 397.4 L192.7 399.4 L194.9 401.5 L197.0 403.5 L199.2 405.6 L201.3 407.6 L203.4 409.6 L205.6 411.6 L207.7 413.7 L209.9 415.7 L212.0 417.7 L214.2 419.7 L216.3 421.7 L218.5 423.7 L220.6 425.6 L222.8 427.6 L224.9 429.6 L227.1 431.6 L229.2 433.5 L231.4 435.5 L233.5 437.5 L235.7 439.4 L237.8 441.4 L239.9 443.3 L242.1 445.3 L244.2 447.2 L246.4 449.1 L248.5 451.1 L250.7 453.0 L252.8 454.9 L255.0 456.9 L257.1 458.8 L259.3 460.7 L261.4 462.6 L263.6 464.5 L265.7 466.4 L267.9 468.3 L270.0 470.2 L272.2 472.1 L274.3 474.0 L276.5 475.9 L278.6 477.7 L280.7 479.6 L282.9 481.5 L285.0 483.3 L287.2 485.2 L289.3 487.1 L291.5 488.9 L293.6 490.8 L295.8 492.6 L297.9 494.4 L300.1 496.3 L302.2 498.1 L304.4 499.9 L306.5 501.7 L308.7 503.5 L310.8 505.3 L313.0 507.1 L315.1 508.9 L317.2 510.7 L319.4 512.5 L321.5 514.3 L323.7 516.0 L325.8 517.8 L328.0 519.5 L330.1 521.3 L332.3 523.0 L334.4 524.7 L336.6 526.5 L338.7 528.2 L340.9 529.9 L343.0 531.6 L345.2 533.3 L347.3 535.0 L349.5 536.6 L351.6 538.3 L353.7 540.0 L355.9 541.6 L358.0 543.2 L360.2 544.9 L362.3 546.5 L364.5 548.1 L366.6 549.7 L368.8 551.3 L370.9 552.9 L373.1 554.4 L375.2 556.0 L377.4 557.6 L379.5 559.1 L381.7 560.6 L383.8 562.1 L386.0 563.6 L388.1 565.1 L390.3 566.6 L392.4 568.1 L394.5 569.5 L396.7 571.0 L398.8 572.4 L401.0 573.8 L403.1 575.2 L405.3 576.6 L407.4 578.0 L409.6 579.4 L411.7 580.8 L413.9 582.1 L416.0 583.4 L418.2 584.7 L420.3 586.0 L422.5 587.3 L424.6 588.6 L426.8 589.9 L428.9 591.1 L431.0 592.3 L433.2 593.6 L435.3 594.8 L437.5 595.9 L439.6 597.1 L441.8 598.3 L443.9 599.4 L446.1 600.6 L448.2 601.7 L450.4 602.8 L452.5 603.8 L454.7 604.9 L456.8 606.0 L459.0 607.0 L461.1 608.0 L463.3 609.0 L465.4 610.0 L467.5 611.0 L469.7 612.0 L471.8 612.9 L474.0 613.9 L476.1 614.8 L478.3 615.7 L480.4 616.6 L482.6 617.4 L484.7 618.3 L486.9 619.1 L489.0 620.0 L491.2 620.8 L493.3 621.6 L495.5 622.4 L497.6 623.1 L499.8 623.9 L501.9 624.6 L504.1 625.4 L506.2 626.1 L508.3 626.8 L510.5 627.5 L512.6 628.2 L514.8 628.8 L516.9 629.5 L519.1 630.1 L521.2 630.7 L523.4 631.3 L525.5 631.9 L527.7 632.5 L529.8 633.1 L532.0 633.6 L534.1 634.2 L536.3 634.7 L538.4 635.2 L540.6 635.8 L542.7 636.3 L544.8 636.7 L547.0 637.2 L549.1 637.7 L551.3 638.1 L553.4 638.6 L555.6 639.0 L557.7 639.5 L559.9 639.9 L562.0 640.3 L564.2 640.7 L566.3 641.1 L568.5 641.4 L570.6 641.8 L572.8 642.2 L574.9 642.5 L577.1 642.9 L579.2 643.2 L581.3 643.5 L583.5 643.8 L585.6 644.1 L587.8 644.4 L589.9 644.7 L592.1 645.0 L594.2 645.3 L596.4 645.6 L598.5 645.8 L600.7 646.1 L602.8 646.4 L605.0 646.6 L607.1 646.8 L609.3 647.1 L611.4 647.3 L613.6 647.5 L615.7 647.7 L617.8 647.9 L620.0 648.1 L622.1 648.3 L624.3 648.5 L626.4 648.7 L628.6 648.9 L630.7 649.1 L632.9 649.3 L635.0 649.4 L637.2 649.6 L639.3 649.7 L641.5 649.9 L643.6 650.1 L645.8 650.2 L647.9 650.3 L650.1 650.5 L652.2 650.6 L654.4 650.7 L656.5 650.9 L658.6 651.0 L660.8 651.1 L662.9 651.2 L665.1 651.3 L667.2 651.5 L669.4 651.6 L671.5 651.7 L673.7 651.8 L675.8 651.9 L678.0 652.0 L680.1 652.1 L682.3 652.1 L684.4 652.2 L686.6 652.3 L688.7 652.4 L690.9 652.5 L693.0 652.6" fill="none" stroke="#009E73" stroke-width="2.6" stroke-linejoin="round"/>
<line x1="51.0" y1="703.5" x2="51.0" y2="713.5" stroke="#111" stroke-width="2"/>
<line x1="51.0" y1="186" x2="51.0" y2="196" stroke="#111" stroke-width="2"/>
<text x="51.0" y="738.5" font-size="22" text-anchor="middle" font-family="'Liberation Sans', sans-serif">0</text>
<line x1="115.2" y1="703.5" x2="115.2" y2="708.5" stroke="#111" stroke-width="2"/>
<line x1="115.2" y1="186" x2="115.2" y2="191" stroke="#111" stroke-width="2"/>
<line x1="179.4" y1="703.5" x2="179.4" y2="713.5" stroke="#111" stroke-width="2"/>
<line x1="179.4" y1="186" x2="179.4" y2="196" stroke="#111" stroke-width="2"/>
<text x="179.4" y="738.5" font-size="22" text-anchor="middle" font-family="'Liberation Sans', sans-serif">1000</text>
<line x1="243.6" y1="703.5" x2="243.6" y2="708.5" stroke="#111" stroke-width="2"/>
<line x1="243.6" y1="186" x2="243.6" y2="191" stroke="#111" stroke-width="2"/>
<line x1="307.8" y1="703.5" x2="307.8" y2="713.5" stroke="#111" stroke-width="2"/>
<line x1="307.8" y1="186" x2="307.8" y2="196" stroke="#111" stroke-width="2"/>
<text x="307.8" y="738.5" font-size="22" text-anchor="middle" font-family="'Liberation Sans', sans-serif">2000</text>
<line x1="372.0" y1="703.5" x2="372.0" y2="708.5" stroke="#111" stroke-width="2"/>
<line x1="372.0" y1="186" x2="372.0" y2="191" stroke="#111" stroke-width="2"/>
<line x1="436.2" y1="703.5" x2="436.2" y2="713.5" stroke="#111" stroke-width="2"/>
<line x1="436.2" y1="186" x2="436.2" y2="196" stroke="#111" stroke-width="2"/>
<text x="436.2" y="738.5" font-size="22" text-anchor="middle" font-family="'Liberation Sans', sans-serif">3000</text>
<line x1="500.4" y1="703.5" x2="500.4" y2="708.5" stroke="#111" stroke-width="2"/>
<line x1="500.4" y1="186" x2="500.4" y2="191" stroke="#111" stroke-width="2"/>
<line x1="564.6" y1="703.5" x2="564.6" y2="713.5" stroke="#111" stroke-width="2"/>
<line x1="564.6" y1="186" x2="564.6" y2="196" stroke="#111" stroke-width="2"/>
<text x="564.6" y="738.5" font-size="22" text-anchor="middle" font-family="'Liberation Sans', sans-serif">4000</text>
<line x1="628.8" y1="703.5" x2="628.8" y2="708.5" stroke="#111" stroke-width="2"/>
<line x1="628.8" y1="186" x2="628.8" y2="191" stroke="#111" stroke-width="2"/>
<line x1="693.0" y1="703.5" x2="693.0" y2="713.5" stroke="#111" stroke-width="2"/>
<line x1="693.0" y1="186" x2="693.0" y2="196" stroke="#111" stroke-width="2"/>
<text x="693.0" y="738.5" font-size="22" text-anchor="middle" font-family="'Liberation Sans', sans-serif">5000</text>
<text x="372.7" y="780" font-size="27" text-anchor="middle" font-family="'Liberation Sans', sans-serif">Time (ns)</text>
<text transform="translate(21.6,444.5) rotate(-90)" font-size="27" text-anchor="middle" font-family="'Liberation Sans', sans-serif">Intensity (a.u.)</text>
<text x="0.6" y="213.3" font-size="35" font-weight="bold" letter-spacing="0.7" font-family="'Liberation Sans', sans-serif">(a)</text>
<line x1="519.7" y1="250.9" x2="582.4" y2="250.9" stroke="#D55E00" stroke-width="2.4"/>
<line x1="519.7" y1="284.3" x2="582.4" y2="284.3" stroke="#0072B2" stroke-width="2.4"/>
<line x1="519.7" y1="317.7" x2="582.4" y2="317.7" stroke="#009E73" stroke-width="2.4"/>
<text x="588" y="260.0" font-size="27" font-family="'Liberation Sans', sans-serif">350 s</text>
<text x="588" y="293.4" font-size="27" font-family="'Liberation Sans', sans-serif">700 s</text>
<text x="588" y="326.8" font-size="27" font-family="'Liberation Sans', sans-serif">1050 s</text>
<defs><linearGradient id="grd" x1="0" y1="0" x2="0" y2="1"><stop offset="0" stop-color="#000"/><stop offset="0.25" stop-color="#2a0000"/><stop offset="0.6" stop-color="#8a0000"/><stop offset="1" stop-color="#c84100"/></linearGradient></defs>
<rect x="222" y="304.5" width="217" height="39" fill="#D55E00"/>
<rect x="221" y="277.5" width="218" height="29" fill="url(#grd)"/>
<rect x="221" y="244.2" width="218" height="33" fill="#56B4E9"/>
<line x1="221" y1="277.3" x2="439" y2="277.3" stroke="#000" stroke-width="1.6"/>
<text x="389.5" y="276" font-size="28" font-family="'Liberation Sans', sans-serif">HTL</text>
<polygon points="283.9,207.3 299.8,201.6 309.3,225.5 325.2,219.8 321.8,275.3 278.9,239.2 293.9,232.4" fill="#CC79A7"/>
<polygon points="361.7,205.8 359.1,238.8 354.9,235.4 352.9,255.6 348.6,251.4 344.9,273.4 327.5,257.4 336.6,241.1 339.7,244 346.1,227.1 349.7,229.7" fill="#009E73"/>
<path d="M322.3,439.5 Q309.3,479.7 274,511.5" fill="none" stroke="#0d2233" stroke-width="5" stroke-linecap="round"/>
<path d="M280.2,486.5 L273,512.3 L299.5,503.8" fill="none" stroke="#0d2233" stroke-width="5" stroke-linejoin="miter" stroke-miterlimit="10" stroke-linecap="round"/>
<text x="102.5" y="569.5" font-size="27.7" font-family="'Liberation Sans', sans-serif">Phase segregation</text>
<rect x="820.4" y="185.6" width="644.1" height="517.9" fill="none" stroke="#111" stroke-width="2"/>
<line x1="810.4" y1="679.3" x2="820.4" y2="679.3" stroke="#111" stroke-width="2"/>
<line x1="1454.5" y1="679.3" x2="1464.5" y2="679.3" stroke="#111" stroke-width="2"/>
<line x1="815.4" y1="630.0" x2="820.4" y2="630.0" stroke="#111" stroke-width="2"/>
<line x1="1459.5" y1="630.0" x2="1464.5" y2="630.0" stroke="#111" stroke-width="2"/>
<line x1="810.4" y1="580.6" x2="820.4" y2="580.6" stroke="#111" stroke-width="2"/>
<line x1="1454.5" y1="580.6" x2="1464.5" y2="580.6" stroke="#111" stroke-width="2"/>
<line x1="815.4" y1="531.3" x2="820.4" y2="531.3" stroke="#111" stroke-width="2"/>
<line x1="1459.5" y1="531.3" x2="1464.5" y2="531.3" stroke="#111" stroke-width="2"/>
<line x1="810.4" y1="482.0" x2="820.4" y2="482.0" stroke="#111" stroke-width="2"/>
<line x1="1454.5" y1="482.0" x2="1464.5" y2="482.0" stroke="#111" stroke-width="2"/>
<line x1="815.4" y1="432.6" x2="820.4" y2="432.6" stroke="#111" stroke-width="2"/>
<line x1="1459.5" y1="432.6" x2="1464.5" y2="432.6" stroke="#111" stroke-width="2"/>
<line x1="810.4" y1="383.3" x2="820.4" y2="383.3" stroke="#111" stroke-width="2"/>
<line x1="1454.5" y1="383.3" x2="1464.5" y2="383.3" stroke="#111" stroke-width="2"/>
<line x1="815.4" y1="334.0" x2="820.4" y2="334.0" stroke="#111" stroke-width="2"/>
<line x1="1459.5" y1="334.0" x2="1464.5" y2="334.0" stroke="#111" stroke-width="2"/>
<line x1="810.4" y1="284.7" x2="820.4" y2="284.7" stroke="#111" stroke-width="2"/>
<line x1="1454.5" y1="284.7" x2="1464.5" y2="284.7" stroke="#111" stroke-width="2"/>
<line x1="815.4" y1="235.3" x2="820.4" y2="235.3" stroke="#111" stroke-width="2"/>
<line x1="1459.5" y1="235.3" x2="1464.5" y2="235.3" stroke="#111" stroke-width="2"/>
<line x1="810.4" y1="186.0" x2="820.4" y2="186.0" stroke="#111" stroke-width="2"/>
<line x1="1454.5" y1="186.0" x2="1464.5" y2="186.0" stroke="#111" stroke-width="2"/>
<line x1="820.4" y1="703.5" x2="820.4" y2="708.5" stroke="#111" stroke-width="2"/>
<line x1="820.4" y1="185.6" x2="820.4" y2="190.6" stroke="#111" stroke-width="2"/>
<line x1="866.3" y1="703.5" x2="866.3" y2="713.5" stroke="#111" stroke-width="2"/>
<line x1="866.3" y1="185.6" x2="866.3" y2="195.6" stroke="#111" stroke-width="2"/>
<text x="866.3" y="738.5" font-size="22" text-anchor="middle" font-family="'Liberation Sans', sans-serif">0</text>
<line x1="912.2" y1="703.5" x2="912.2" y2="708.5" stroke="#111" stroke-width="2"/>
<line x1="912.2" y1="185.6" x2="912.2" y2="190.6" stroke="#111" stroke-width="2"/>
<line x1="958.2" y1="703.5" x2="958.2" y2="713.5" stroke="#111" stroke-width="2"/>
<line x1="958.2" y1="185.6" x2="958.2" y2="195.6" stroke="#111" stroke-width="2"/>
<text x="958.2" y="738.5" font-size="22" text-anchor="middle" font-family="'Liberation Sans', sans-serif">50</text>
<line x1="1004.1" y1="703.5" x2="1004.1" y2="708.5" stroke="#111" stroke-width="2"/>
<line x1="1004.1" y1="185.6" x2="1004.1" y2="190.6" stroke="#111" stroke-width="2"/>
<line x1="1050.0" y1="703.5" x2="1050.0" y2="713.5" stroke="#111" stroke-width="2"/>
<line x1="1050.0" y1="185.6" x2="1050.0" y2="195.6" stroke="#111" stroke-width="2"/>
<text x="1050.0" y="738.5" font-size="22" text-anchor="middle" font-family="'Liberation Sans', sans-serif">100</text>
<line x1="1096.0" y1="703.5" x2="1096.0" y2="708.5" stroke="#111" stroke-width="2"/>
<line x1="1096.0" y1="185.6" x2="1096.0" y2="190.6" stroke="#111" stroke-width="2"/>
<line x1="1141.9" y1="703.5" x2="1141.9" y2="713.5" stroke="#111" stroke-width="2"/>
<line x1="1141.9" y1="185.6" x2="1141.9" y2="195.6" stroke="#111" stroke-width="2"/>
<text x="1141.9" y="738.5" font-size="22" text-anchor="middle" font-family="'Liberation Sans', sans-serif">150</text>
<line x1="1187.8" y1="703.5" x2="1187.8" y2="708.5" stroke="#111" stroke-width="2"/>
<line x1="1187.8" y1="185.6" x2="1187.8" y2="190.6" stroke="#111" stroke-width="2"/>
<line x1="1233.8" y1="703.5" x2="1233.8" y2="713.5" stroke="#111" stroke-width="2"/>
<line x1="1233.8" y1="185.6" x2="1233.8" y2="195.6" stroke="#111" stroke-width="2"/>
<text x="1233.8" y="738.5" font-size="22" text-anchor="middle" font-family="'Liberation Sans', sans-serif">200</text>
<line x1="1279.7" y1="703.5" x2="1279.7" y2="708.5" stroke="#111" stroke-width="2"/>
<line x1="1279.7" y1="185.6" x2="1279.7" y2="190.6" stroke="#111" stroke-width="2"/>
<line x1="1325.6" y1="703.5" x2="1325.6" y2="713.5" stroke="#111" stroke-width="2"/>
<line x1="1325.6" y1="185.6" x2="1325.6" y2="195.6" stroke="#111" stroke-width="2"/>
<text x="1325.6" y="738.5" font-size="22" text-anchor="middle" font-family="'Liberation Sans', sans-serif">250</text>
<line x1="1371.6" y1="703.5" x2="1371.6" y2="708.5" stroke="#111" stroke-width="2"/>
<line x1="1371.6" y1="185.6" x2="1371.6" y2="190.6" stroke="#111" stroke-width="2"/>
<line x1="1417.5" y1="703.5" x2="1417.5" y2="713.5" stroke="#111" stroke-width="2"/>
<line x1="1417.5" y1="185.6" x2="1417.5" y2="195.6" stroke="#111" stroke-width="2"/>
<text x="1417.5" y="738.5" font-size="22" text-anchor="middle" font-family="'Liberation Sans', sans-serif">300</text>
<line x1="1463.5" y1="703.5" x2="1463.5" y2="708.5" stroke="#111" stroke-width="2"/>
<line x1="1463.5" y1="185.6" x2="1463.5" y2="190.6" stroke="#111" stroke-width="2"/>
<text x="1142.5" y="780" font-size="27" text-anchor="middle" font-family="'Liberation Sans', sans-serif">Time (s)</text>
<text transform="translate(791.5,445) rotate(-90)" font-size="27" text-anchor="middle" font-family="'Liberation Sans', sans-serif">Intensity (a.u.)</text>
<text x="757.8" y="213.3" font-size="35" font-weight="bold" letter-spacing="1.1" font-family="'Liberation Sans', sans-serif">(b)</text>
<path d="M866.3 646.0 L869.1 640.6 L871.8 635.2 L874.6 630.0 L877.4 624.8 L880.1 619.7 L882.9 614.7 L885.7 609.8 L888.5 604.9 L891.2 600.1 L894.0 595.4 L896.8 590.8 L899.5 586.2 L902.3 581.7 L905.1 577.3 L907.8 573.0 L910.6 568.7 L913.4 564.5 L916.2 560.3 L918.9 556.3 L921.7 552.2 L924.5 548.3 L927.2 544.4 L930.0 540.6 L932.8 536.8 L935.5 533.1 L938.3 529.4 L941.1 525.8 L943.9 522.3 L946.6 518.8 L949.4 515.4 L952.2 512.0 L954.9 508.7 L957.7 505.4 L960.5 502.2 L963.2 499.0 L966.0 495.9 L968.8 492.8 L971.6 489.8 L974.3 486.9 L977.1 483.9 L979.9 481.0 L982.6 478.2 L985.4 475.4 L988.2 472.7 L990.9 470.0 L993.7 467.3 L996.5 464.7 L999.3 462.1 L1002.0 459.6 L1004.8 457.1 L1007.6 454.6 L1010.3 452.2 L1013.1 449.8 L1015.9 447.5 L1018.6 445.2 L1021.4 442.9 L1024.2 440.7 L1027.0 438.5 L1029.7 436.3 L1032.5 434.2 L1035.3 432.1 L1038.0 430.0 L1040.8 428.0 L1043.6 426.0 L1046.3 424.0 L1049.1 422.0 L1051.9 420.1 L1054.7 418.3 L1057.4 416.4 L1060.2 414.6 L1063.0 412.8 L1065.7 411.0 L1068.5 409.3 L1071.3 407.6 L1074.0 405.9 L1076.8 404.2 L1079.6 402.6 L1082.4 401.0 L1085.1 399.4 L1087.9 397.9 L1090.7 396.4 L1093.4 394.8 L1096.2 393.4 L1099.0 391.9 L1101.7 390.5 L1104.5 389.1 L1107.3 387.7 L1110.1 386.3 L1112.8 385.0 L1115.6 383.6 L1118.4 382.3 L1121.1 381.0 L1123.9 379.8 L1126.7 378.5 L1129.4 377.3 L1132.2 376.1 L1135.0 374.9 L1137.8 373.7 L1140.5 372.6 L1143.3 371.5 L1146.1 370.3 L1148.8 369.2 L1151.6 368.2 L1154.4 367.1 L1157.1 366.1 L1159.9 365.0 L1162.7 364.0 L1165.5 363.0 L1168.2 362.0 L1171.0 361.1 L1173.8 360.1 L1176.5 359.2 L1179.3 358.3 L1182.1 357.4 L1184.8 356.5 L1187.6 355.6 L1190.4 354.7 L1193.2 353.9 L1195.9 353.0 L1198.7 352.2 L1201.5 351.4 L1204.2 350.6 L1207.0 349.8 L1209.8 349.0 L1212.5 348.3 L1215.3 347.5 L1218.1 346.8 L1220.9 346.1 L1223.6 345.3 L1226.4 344.6 L1229.2 343.9 L1231.9 343.3 L1234.7 342.6 L1237.5 341.9 L1240.2 341.3 L1243.0 340.6 L1245.8 340.0 L1248.6 339.4 L1251.3 338.8 L1254.1 338.2 L1256.9 337.6 L1259.6 337.0 L1262.4 336.4 L1265.2 335.9 L1267.9 335.3 L1270.7 334.8 L1273.5 334.2 L1276.3 333.7 L1279.0 333.2 L1281.8 332.7 L1284.6 332.2 L1287.3 331.7 L1290.1 331.2 L1292.9 330.7 L1295.6 330.2 L1298.4 329.7 L1301.2 329.3 L1304.0 328.8 L1306.7 328.4 L1309.5 327.9 L1312.3 327.5 L1315.0 327.1 L1317.8 326.7 L1320.6 326.3 L1323.3 325.9 L1326.1 325.5 L1328.9 325.1 L1331.7 324.7 L1334.4 324.3 L1337.2 323.9 L1340.0 323.6 L1342.7 323.2 L1345.5 322.8 L1348.3 322.5 L1351.0 322.1 L1353.8 321.8 L1356.6 321.5 L1359.4 321.1 L1362.1 320.8 L1364.9 320.5 L1367.7 320.2 L1370.4 319.9 L1373.2 319.6 L1376.0 319.3 L1378.7 319.0 L1381.5 318.7 L1384.3 318.4 L1387.1 318.1 L1389.8 317.8 L1392.6 317.6 L1395.4 317.3 L1398.1 317.0 L1400.9 316.8 L1403.7 316.5 L1406.4 316.3 L1409.2 316.0 L1412.0 315.8 L1414.8 315.5 L1417.5 315.3" fill="none" stroke="#56B4E9" stroke-width="2.6"/>
<path d="M866.3 655.0 L869.1 651.8 L871.8 648.6 L874.6 645.4 L877.4 642.2 L880.1 639.1 L882.9 636.0 L885.7 633.0 L888.5 630.0 L891.2 627.0 L894.0 624.0 L896.8 621.1 L899.5 618.1 L902.3 615.3 L905.1 612.4 L907.8 609.6 L910.6 606.8 L913.4 604.0 L916.2 601.2 L918.9 598.5 L921.7 595.8 L924.5 593.1 L927.2 590.5 L930.0 587.9 L932.8 585.3 L935.5 582.7 L938.3 580.1 L941.1 577.6 L943.9 575.1 L946.6 572.6 L949.4 570.2 L952.2 567.7 L954.9 565.3 L957.7 562.9 L960.5 560.6 L963.2 558.2 L966.0 555.9 L968.8 553.6 L971.6 551.3 L974.3 549.1 L977.1 546.8 L979.9 544.6 L982.6 542.4 L985.4 540.3 L988.2 538.1 L990.9 536.0 L993.7 533.9 L996.5 531.8 L999.3 529.7 L1002.0 527.7 L1004.8 525.6 L1007.6 523.6 L1010.3 521.6 L1013.1 519.7 L1015.9 517.7 L1018.6 515.8 L1021.4 513.8 L1024.2 511.9 L1027.0 510.1 L1029.7 508.2 L1032.5 506.4 L1035.3 504.5 L1038.0 502.7 L1040.8 500.9 L1043.6 499.1 L1046.3 497.4 L1049.1 495.6 L1051.9 493.9 L1054.7 492.2 L1057.4 490.5 L1060.2 488.8 L1063.0 487.2 L1065.7 485.5 L1068.5 483.9 L1071.3 482.3 L1074.0 480.7 L1076.8 479.1 L1079.6 477.5 L1082.4 475.9 L1085.1 474.4 L1087.9 472.9 L1090.7 471.4 L1093.4 469.9 L1096.2 468.4 L1099.0 466.9 L1101.7 465.4 L1104.5 464.0 L1107.3 462.6 L1110.1 461.2 L1112.8 459.8 L1115.6 458.4 L1118.4 457.0 L1121.1 455.6 L1123.9 454.3 L1126.7 452.9 L1129.4 451.6 L1132.2 450.3 L1135.0 449.0 L1137.8 447.7 L1140.5 446.4 L1143.3 445.2 L1146.1 443.9 L1148.8 442.7 L1151.6 441.5 L1154.4 440.2 L1157.1 439.0 L1159.9 437.8 L1162.7 436.7 L1165.5 435.5 L1168.2 434.3 L1171.0 433.2 L1173.8 432.0 L1176.5 430.9 L1179.3 429.8 L1182.1 428.7 L1184.8 427.6 L1187.6 426.5 L1190.4 425.4 L1193.2 424.4 L1195.9 423.3 L1198.7 422.3 L1201.5 421.2 L1204.2 420.2 L1207.0 419.2 L1209.8 418.2 L1212.5 417.2 L1215.3 416.2 L1218.1 415.2 L1220.9 414.3 L1223.6 413.3 L1226.4 412.4 L1229.2 411.4 L1231.9 410.5 L1234.7 409.6 L1237.5 408.6 L1240.2 407.7 L1243.0 406.8 L1245.8 406.0 L1248.6 405.1 L1251.3 404.2 L1254.1 403.3 L1256.9 402.5 L1259.6 401.6 L1262.4 400.8 L1265.2 400.0 L1267.9 399.1 L1270.7 398.3 L1273.5 397.5 L1276.3 396.7 L1279.0 395.9 L1281.8 395.1 L1284.6 394.4 L1287.3 393.6 L1290.1 392.8 L1292.9 392.1 L1295.6 391.3 L1298.4 390.6 L1301.2 389.8 L1304.0 389.1 L1306.7 388.4 L1309.5 387.7 L1312.3 387.0 L1315.0 386.3 L1317.8 385.6 L1320.6 384.9 L1323.3 384.2 L1326.1 383.5 L1328.9 382.9 L1331.7 382.2 L1334.4 381.5 L1337.2 380.9 L1340.0 380.2 L1342.7 379.6 L1345.5 379.0 L1348.3 378.4 L1351.0 377.7 L1353.8 377.1 L1356.6 376.5 L1359.4 375.9 L1362.1 375.3 L1364.9 374.7 L1367.7 374.1 L1370.4 373.6 L1373.2 373.0 L1376.0 372.4 L1378.7 371.8 L1381.5 371.3 L1384.3 370.7 L1387.1 370.2 L1389.8 369.6 L1392.6 369.1 L1395.4 368.6 L1398.1 368.1 L1400.9 367.5 L1403.7 367.0 L1406.4 366.5 L1409.2 366.0 L1412.0 365.5 L1414.8 365.0 L1417.5 364.5" fill="none" stroke="#E69F00" stroke-width="2.6"/>
<path d="M866.3 642.5 L921.4 623.7 L976.5 604.1 L1031.7 581.6 L1086.8 558.2 L1197.0 517.4 L1307.3 479.5 L1417.5 443.2" fill="none" stroke="#000000" stroke-width="2.6" stroke-linejoin="round"/>
<defs><radialGradient id="gk" cx="0.38" cy="0.32" r="0.7"><stop offset="0" stop-color="#ffffff"/><stop offset="0.18" stop-color="#8a8a8a"/><stop offset="0.45" stop-color="#111"/><stop offset="1" stop-color="#000"/></radialGradient><radialGradient id="go" cx="0.38" cy="0.32" r="0.7"><stop offset="0" stop-color="#fff6dc"/><stop offset="0.2" stop-color="#f2bd4c"/><stop offset="0.5" stop-color="#E69F00"/><stop offset="1" stop-color="#d28f00"/></radialGradient><radialGradient id="gb" cx="0.38" cy="0.32" r="0.7"><stop offset="0" stop-color="#eaf7ff"/><stop offset="0.2" stop-color="#8fd0f3"/><stop offset="0.5" stop-color="#56B4E9"/><stop offset="1" stop-color="#46a6de"/></radialGradient></defs>
<circle cx="866.3" cy="662.2" r="6.3" fill="url(#go)"/>
<circle cx="921.4" cy="591.9" r="6.3" fill="url(#go)"/>
<circle cx="976.5" cy="552.5" r="6.3" fill="url(#go)"/>
<circle cx="1031.7" cy="507.6" r="6.3" fill="url(#go)"/>
<circle cx="1086.8" cy="475.3" r="6.3" fill="url(#go)"/>
<circle cx="1197.0" cy="430.5" r="6.3" fill="url(#go)"/>
<circle cx="1307.3" cy="392.1" r="6.3" fill="url(#go)"/>
<circle cx="1417.5" cy="363.1" r="6.3" fill="url(#go)"/>
<circle cx="866.3" cy="649.5" r="6.3" fill="url(#gb)"/>
<circle cx="921.4" cy="524.4" r="6.3" fill="url(#gb)"/>
<circle cx="976.5" cy="473.9" r="6.3" fill="url(#gb)"/>
<circle cx="1031.7" cy="435.5" r="6.3" fill="url(#gb)"/>
<circle cx="1086.8" cy="407.0" r="6.3" fill="url(#gb)"/>
<circle cx="1197.0" cy="367.3" r="6.3" fill="url(#gb)"/>
<circle cx="1307.3" cy="330.5" r="6.3" fill="url(#gb)"/>
<circle cx="1417.5" cy="301.1" r="6.3" fill="url(#gb)"/>
<circle cx="866.3" cy="642.5" r="6.3" fill="url(#gk)"/>
<circle cx="921.4" cy="623.7" r="6.3" fill="url(#gk)"/>
<circle cx="976.5" cy="604.1" r="6.3" fill="url(#gk)"/>
<circle cx="1031.7" cy="581.6" r="6.3" fill="url(#gk)"/>
<circle cx="1086.8" cy="558.2" r="6.3" fill="url(#gk)"/>
<circle cx="1197.0" cy="517.4" r="6.3" fill="url(#gk)"/>
<circle cx="1307.3" cy="479.5" r="6.3" fill="url(#gk)"/>
<circle cx="1417.5" cy="443.2" r="6.3" fill="url(#gk)"/>
<circle cx="898" cy="233.8" r="6.3" fill="url(#gk)"/>
<circle cx="898" cy="267.1" r="6.3" fill="url(#go)"/>
<circle cx="898" cy="300.4" r="6.3" fill="url(#gb)"/>
<text x="934.5" y="243.3" font-size="27" font-family="'Liberation Sans', sans-serif">Cycle 1</text>
<text x="934.5" y="276.1" font-size="27" font-family="'Liberation Sans', sans-serif">Cycle 2</text>
<text x="934.5" y="308.9" font-size="27" font-family="'Liberation Sans', sans-serif">Cycle 3</text>
<text x="1153.5" y="320.6" font-size="27" fill="#56B4E9" font-family="'Liberation Sans', sans-serif">k=1.0x10<tspan dy="-11.5" font-size="17">-2</tspan><tspan dy="11.5" font-size="27"> s</tspan><tspan dy="-11.5" font-size="17">-1</tspan></text>
<text x="1162.8" y="469.2" font-size="27" fill="#E69F00" font-family="'Liberation Sans', sans-serif">k=6.3x10<tspan dy="-11.5" font-size="17">-3</tspan><tspan dy="11.5" font-size="27"> s</tspan><tspan dy="-11.5" font-size="17">-1</tspan></text>
<text x="1163.7" y="565.6" font-size="27" fill="#000000" font-family="'Liberation Sans', sans-serif">k=6.2x10<tspan dy="-11.5" font-size="17">-4</tspan><tspan dy="11.5" font-size="27"> s</tspan><tspan dy="-11.5" font-size="17">-1</tspan></text>
</svg>
</body></html>
